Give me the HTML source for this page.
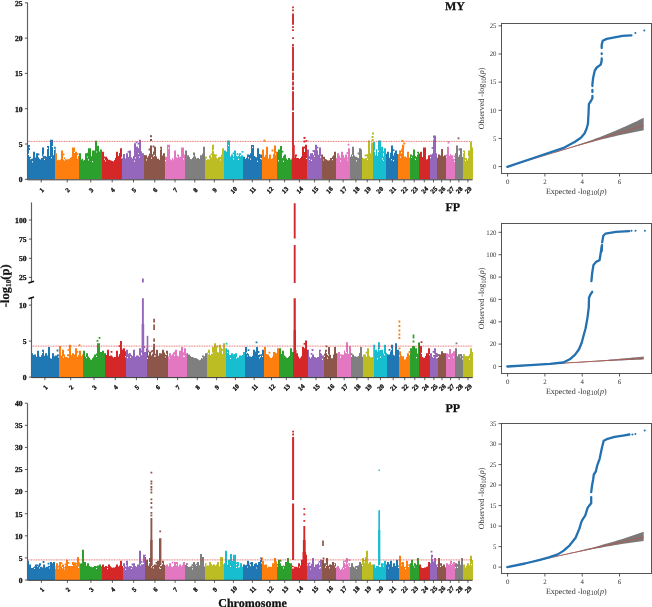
<!DOCTYPE html>
<html><head><meta charset="utf-8"><style>
html,body{margin:0;padding:0;background:#fff;width:652px;height:607px;overflow:hidden}
svg{display:block;filter:blur(0.4px)}
text{font-family:"Liberation Serif",serif;fill:#111;text-rendering:geometricPrecision}
.yt{font-size:7.6px;font-weight:bold;text-anchor:end;stroke:#111;stroke-width:0.3px}
.xt{font-size:6.5px;font-weight:bold;text-anchor:middle;stroke:#111;stroke-width:0.35px}
.ttl{font-size:12px;font-weight:bold;stroke:#111;stroke-width:0.25px}
.ylab{font-size:12.5px;font-weight:bold;stroke:#111;stroke-width:0.2px}
.xlab{font-size:12px;font-weight:bold;stroke:#111;stroke-width:0.25px}
.qt{font-size:6.8px;fill:#333}
.ql{font-size:8px;fill:#333}
</style></head><body>
<svg width="652" height="607" viewBox="0 0 652 607">
<path fill="#1f77b4" d="M27.0 179.3V146.1h1.0V179.3zM28.0 179.3V146.1h1.0V179.3zM29.0 179.3V156.7h1.0V179.3zM30.0 179.3V156.7h1.0V179.3zM31.0 179.3V158.7h1.0V179.3zM32.0 179.3V158.5h1.0V179.3zM33.0 179.3V151.8h1.0V179.3zM34.0 179.3V151.8h1.0V179.3zM35.0 179.3V157.5h1.0V179.3zM36.0 179.3V153.2h1.0V179.3zM37.0 179.3V153.2h1.0V179.3zM38.0 179.3V157.2h1.0V179.3zM39.0 179.3V158.7h1.0V179.3zM40.0 179.3V159.5h1.0V179.3zM41.0 179.3V157.9h1.0V179.3zM42.0 179.3V147.5h1.0V179.3zM43.0 179.3V147.5h1.0V179.3zM44.0 179.3V156.0h1.0V179.3zM45.0 179.3V156.0h1.0V179.3zM46.0 179.3V156.7h1.0V179.3zM47.0 179.3V146.1h1.0V179.3zM48.0 179.3V146.1h1.0V179.3zM49.0 179.3V156.1h1.0V179.3zM50.0 179.3V139.8h1.0V179.3zM51.0 179.3V139.8h1.0V179.3zM52.0 179.3V139.8h1.0V179.3zM53.0 179.3V155.3h1.0V179.3zM54.0 179.3V146.8h1.0V179.3zM243.0 179.3V156.7h1.0V179.3zM244.0 179.3V156.7h1.0V179.3zM245.0 179.3V159.0h1.0V179.3zM246.0 179.3V157.8h1.0V179.3zM247.0 179.3V154.6h1.0V179.3zM248.0 179.3V154.6h1.0V179.3zM249.0 179.3V154.8h1.0V179.3zM250.0 179.3V153.3h1.0V179.3zM251.0 179.3V145.1h1.0V179.3zM252.0 179.3V145.1h1.0V179.3zM253.0 179.3V145.1h1.0V179.3zM254.0 179.3V156.1h1.0V179.3zM255.0 179.3V156.7h1.0V179.3zM256.0 179.3V157.3h1.0V179.3zM257.0 179.3V148.2h1.0V179.3zM258.0 179.3V148.2h1.0V179.3zM259.0 179.3V153.9h1.0V179.3zM260.0 179.3V154.6h1.0V179.3zM261.0 179.3V154.6h1.0V179.3zM386.0 179.3V153.8h1.0V179.3zM387.0 179.3V151.8h1.0V179.3zM388.0 179.3V151.8h1.0V179.3zM389.0 179.3V157.8h1.0V179.3zM390.0 179.3V152.8h1.0V179.3zM391.0 179.3V145.4h1.0V179.3zM392.0 179.3V145.4h1.0V179.3zM393.0 179.3V155.5h1.0V179.3zM394.0 179.3V152.8h1.0V179.3zM395.0 179.3V150.4h1.0V179.3zM396.0 179.3V150.4h1.0V179.3zM397.0 179.3V153.9h1.0V179.3z"/>
<path fill="#ff7f0e" d="M55.0 179.3V146.8h1.0V179.3zM56.0 179.3V153.2h1.0V179.3zM57.0 179.3V160.2h1.0V179.3zM58.0 179.3V159.8h1.0V179.3zM59.0 179.3V160.3h1.0V179.3zM60.0 179.3V159.4h1.0V179.3zM61.0 179.3V150.4h1.0V179.3zM62.0 179.3V150.4h1.0V179.3zM63.0 179.3V159.6h1.0V179.3zM64.0 179.3V157.5h1.0V179.3zM65.0 179.3V159.1h1.0V179.3zM66.0 179.3V159.5h1.0V179.3zM67.0 179.3V159.3h1.0V179.3zM68.0 179.3V159.2h1.0V179.3zM69.0 179.3V158.8h1.0V179.3zM70.0 179.3V157.8h1.0V179.3zM71.0 179.3V156.9h1.0V179.3zM72.0 179.3V147.5h1.0V179.3zM73.0 179.3V147.5h1.0V179.3zM74.0 179.3V147.5h1.0V179.3zM75.0 179.3V151.8h1.0V179.3zM76.0 179.3V151.8h1.0V179.3zM77.0 179.3V158.7h1.0V179.3zM78.0 179.3V156.0h1.0V179.3zM262.0 179.3V149.6h1.0V179.3zM263.0 179.3V149.6h1.0V179.3zM264.0 179.3V156.7h1.0V179.3zM265.0 179.3V155.1h1.0V179.3zM266.0 179.3V146.8h1.0V179.3zM267.0 179.3V146.8h1.0V179.3zM268.0 179.3V158.4h1.0V179.3zM269.0 179.3V154.6h1.0V179.3zM270.0 179.3V154.6h1.0V179.3zM271.0 179.3V158.9h1.0V179.3zM272.0 179.3V158.3h1.0V179.3zM273.0 179.3V154.1h1.0V179.3zM274.0 179.3V145.4h1.0V179.3zM275.0 179.3V145.4h1.0V179.3zM276.0 179.3V151.8h1.0V179.3zM398.0 179.3V153.9h1.0V179.3zM399.0 179.3V150.4h1.0V179.3zM400.0 179.3V150.4h1.0V179.3zM401.0 179.3V153.6h1.0V179.3zM402.0 179.3V144.7h1.0V179.3zM403.0 179.3V144.7h1.0V179.3zM404.0 179.3V156.4h1.0V179.3zM405.0 179.3V156.6h1.0V179.3zM406.0 179.3V157.4h1.0V179.3zM407.0 179.3V151.8h1.0V179.3zM408.0 179.3V151.8h1.0V179.3zM409.0 179.3V157.4h1.0V179.3z"/>
<path fill="#2ca02c" d="M79.0 179.3V153.2h1.0V179.3zM80.0 179.3V153.2h1.0V179.3zM81.0 179.3V159.4h1.0V179.3zM82.0 179.3V158.8h1.0V179.3zM83.0 179.3V160.6h1.0V179.3zM84.0 179.3V160.1h1.0V179.3zM85.0 179.3V153.2h1.0V179.3zM86.0 179.3V153.2h1.0V179.3zM87.0 179.3V152.8h1.0V179.3zM88.0 179.3V148.2h1.0V179.3zM89.0 179.3V148.2h1.0V179.3zM90.0 179.3V148.2h1.0V179.3zM91.0 179.3V156.3h1.0V179.3zM92.0 179.3V150.4h1.0V179.3zM93.0 179.3V150.4h1.0V179.3zM94.0 179.3V150.4h1.0V179.3zM95.0 179.3V140.8h1.0V179.3zM96.0 179.3V140.8h1.0V179.3zM97.0 179.3V145.8h1.0V179.3zM98.0 179.3V145.8h1.0V179.3zM99.0 179.3V151.6h1.0V179.3zM100.0 179.3V149.6h1.0V179.3zM101.0 179.3V149.6h1.0V179.3zM277.0 179.3V151.8h1.0V179.3zM278.0 179.3V149.6h1.0V179.3zM279.0 179.3V149.6h1.0V179.3zM280.0 179.3V146.1h1.0V179.3zM281.0 179.3V146.1h1.0V179.3zM282.0 179.3V157.9h1.0V179.3zM283.0 179.3V155.7h1.0V179.3zM284.0 179.3V154.6h1.0V179.3zM285.0 179.3V154.6h1.0V179.3zM286.0 179.3V158.6h1.0V179.3zM287.0 179.3V159.7h1.0V179.3zM288.0 179.3V158.1h1.0V179.3zM289.0 179.3V158.1h1.0V179.3zM290.0 179.3V159.5h1.0V179.3zM291.0 179.3V159.5h1.0V179.3zM410.0 179.3V154.6h1.0V179.3zM411.0 179.3V154.6h1.0V179.3zM412.0 179.3V155.4h1.0V179.3zM413.0 179.3V149.6h1.0V179.3zM414.0 179.3V149.6h1.0V179.3zM415.0 179.3V156.0h1.0V179.3zM416.0 179.3V156.7h1.0V179.3zM417.0 179.3V151.8h1.0V179.3zM418.0 179.3V151.8h1.0V179.3z"/>
<path fill="#d62728" d="M102.0 179.3V151.8h1.0V179.3zM103.0 179.3V151.8h1.0V179.3zM104.0 179.3V156.5h1.0V179.3zM105.0 179.3V156.7h1.0V179.3zM106.0 179.3V156.7h1.0V179.3zM107.0 179.3V158.3h1.0V179.3zM108.0 179.3V159.7h1.0V179.3zM109.0 179.3V159.8h1.0V179.3zM110.0 179.3V160.2h1.0V179.3zM111.0 179.3V160.8h1.0V179.3zM112.0 179.3V161.1h1.0V179.3zM113.0 179.3V161.5h1.0V179.3zM114.0 179.3V160.1h1.0V179.3zM115.0 179.3V157.7h1.0V179.3zM116.0 179.3V151.8h1.0V179.3zM117.0 179.3V151.8h1.0V179.3zM118.0 179.3V156.0h1.0V179.3zM119.0 179.3V152.9h1.0V179.3zM120.0 179.3V148.2h1.0V179.3zM121.0 179.3V148.2h1.0V179.3zM292.0 179.3V158.5h1.0V179.3zM293.0 179.3V159.4h1.0V179.3zM294.0 179.3V159.7h1.0V179.3zM295.0 179.3V154.6h1.0V179.3zM296.0 179.3V154.6h1.0V179.3zM297.0 179.3V158.1h1.0V179.3zM298.0 179.3V158.1h1.0V179.3zM299.0 179.3V159.0h1.0V179.3zM300.0 179.3V158.1h1.0V179.3zM301.0 179.3V156.5h1.0V179.3zM302.0 179.3V146.8h1.0V179.3zM303.0 179.3V146.8h1.0V179.3zM304.0 179.3V152.0h1.0V179.3zM305.0 179.3V144.7h1.0V179.3zM306.0 179.3V144.7h1.0V179.3zM419.0 179.3V153.5h1.0V179.3zM420.0 179.3V151.8h1.0V179.3zM421.0 179.3V151.8h1.0V179.3zM422.0 179.3V157.0h1.0V179.3zM423.0 179.3V147.5h1.0V179.3zM424.0 179.3V147.5h1.0V179.3zM425.0 179.3V147.5h1.0V179.3zM426.0 179.3V159.5h1.0V179.3zM427.0 179.3V159.1h1.0V179.3zM428.0 179.3V155.3h1.0V179.3zM429.0 179.3V155.3h1.0V179.3z"/>
<path fill="#9467bd" d="M122.0 179.3V157.9h1.0V179.3zM123.0 179.3V153.9h1.0V179.3zM124.0 179.3V153.9h1.0V179.3zM125.0 179.3V158.4h1.0V179.3zM126.0 179.3V153.2h1.0V179.3zM127.0 179.3V153.2h1.0V179.3zM128.0 179.3V157.0h1.0V179.3zM129.0 179.3V150.4h1.0V179.3zM130.0 179.3V150.4h1.0V179.3zM131.0 179.3V157.3h1.0V179.3zM132.0 179.3V158.6h1.0V179.3zM133.0 179.3V156.0h1.0V179.3zM134.0 179.3V143.3h1.0V179.3zM135.0 179.3V143.3h1.0V179.3zM136.0 179.3V146.8h1.0V179.3zM137.0 179.3V146.5h1.0V179.3zM138.0 179.3V148.3h1.0V179.3zM139.0 179.3V139.8h1.0V179.3zM140.0 179.3V139.8h1.0V179.3zM141.0 179.3V151.2h1.0V179.3zM142.0 179.3V153.2h1.0V179.3zM143.0 179.3V153.2h1.0V179.3zM307.0 179.3V149.6h1.0V179.3zM308.0 179.3V149.6h1.0V179.3zM309.0 179.3V156.3h1.0V179.3zM310.0 179.3V153.2h1.0V179.3zM311.0 179.3V153.2h1.0V179.3zM312.0 179.3V152.9h1.0V179.3zM313.0 179.3V155.0h1.0V179.3zM314.0 179.3V149.9h1.0V179.3zM315.0 179.3V144.7h1.0V179.3zM316.0 179.3V144.7h1.0V179.3zM317.0 179.3V150.3h1.0V179.3zM318.0 179.3V154.7h1.0V179.3zM319.0 179.3V147.5h1.0V179.3zM320.0 179.3V147.5h1.0V179.3zM321.0 179.3V154.6h1.0V179.3zM430.0 179.3V154.6h1.0V179.3zM431.0 179.3V154.6h1.0V179.3zM432.0 179.3V153.5h1.0V179.3zM433.0 179.3V135.5h1.0V179.3zM434.0 179.3V135.5h1.0V179.3zM435.0 179.3V135.5h1.0V179.3zM436.0 179.3V153.2h1.0V179.3z"/>
<path fill="#8c564b" d="M144.0 179.3V155.1h1.0V179.3zM145.0 179.3V155.3h1.0V179.3zM146.0 179.3V155.3h1.0V179.3zM147.0 179.3V157.5h1.0V179.3zM148.0 179.3V155.8h1.0V179.3zM149.0 179.3V153.4h1.0V179.3zM150.0 179.3V145.4h1.0V179.3zM151.0 179.3V145.4h1.0V179.3zM152.0 179.3V154.3h1.0V179.3zM153.0 179.3V151.4h1.0V179.3zM154.0 179.3V146.8h1.0V179.3zM155.0 179.3V146.8h1.0V179.3zM156.0 179.3V156.5h1.0V179.3zM157.0 179.3V158.8h1.0V179.3zM158.0 179.3V158.8h1.0V179.3zM159.0 179.3V159.8h1.0V179.3zM160.0 179.3V146.8h1.0V179.3zM161.0 179.3V146.8h1.0V179.3zM162.0 179.3V155.4h1.0V179.3zM163.0 179.3V153.2h1.0V179.3zM164.0 179.3V153.2h1.0V179.3zM322.0 179.3V154.6h1.0V179.3zM323.0 179.3V156.7h1.0V179.3zM324.0 179.3V156.7h1.0V179.3zM325.0 179.3V159.1h1.0V179.3zM326.0 179.3V159.6h1.0V179.3zM327.0 179.3V160.2h1.0V179.3zM328.0 179.3V160.5h1.0V179.3zM329.0 179.3V160.3h1.0V179.3zM330.0 179.3V158.1h1.0V179.3zM331.0 179.3V158.1h1.0V179.3zM332.0 179.3V156.5h1.0V179.3zM333.0 179.3V155.2h1.0V179.3zM334.0 179.3V151.8h1.0V179.3zM335.0 179.3V151.8h1.0V179.3zM437.0 179.3V157.7h1.0V179.3zM438.0 179.3V154.6h1.0V179.3zM439.0 179.3V154.6h1.0V179.3zM440.0 179.3V155.5h1.0V179.3zM441.0 179.3V148.9h1.0V179.3zM442.0 179.3V148.9h1.0V179.3zM443.0 179.3V156.2h1.0V179.3zM444.0 179.3V155.3h1.0V179.3zM445.0 179.3V155.3h1.0V179.3z"/>
<path fill="#e377c2" d="M165.0 179.3V156.7h1.0V179.3zM166.0 179.3V156.7h1.0V179.3zM167.0 179.3V144.7h1.0V179.3zM168.0 179.3V144.7h1.0V179.3zM169.0 179.3V144.7h1.0V179.3zM170.0 179.3V159.3h1.0V179.3zM171.0 179.3V160.3h1.0V179.3zM172.0 179.3V158.0h1.0V179.3zM173.0 179.3V159.6h1.0V179.3zM174.0 179.3V150.6h1.0V179.3zM175.0 179.3V150.6h1.0V179.3zM176.0 179.3V157.2h1.0V179.3zM177.0 179.3V154.6h1.0V179.3zM178.0 179.3V154.6h1.0V179.3zM179.0 179.3V157.3h1.0V179.3zM180.0 179.3V156.7h1.0V179.3zM181.0 179.3V147.5h1.0V179.3zM182.0 179.3V147.5h1.0V179.3zM183.0 179.3V147.5h1.0V179.3zM184.0 179.3V154.6h1.0V179.3zM336.0 179.3V158.1h1.0V179.3zM337.0 179.3V153.2h1.0V179.3zM338.0 179.3V153.2h1.0V179.3zM339.0 179.3V155.5h1.0V179.3zM340.0 179.3V157.7h1.0V179.3zM341.0 179.3V151.8h1.0V179.3zM342.0 179.3V151.8h1.0V179.3zM343.0 179.3V155.0h1.0V179.3zM344.0 179.3V157.6h1.0V179.3zM345.0 179.3V154.6h1.0V179.3zM346.0 179.3V154.6h1.0V179.3zM347.0 179.3V157.4h1.0V179.3zM348.0 179.3V148.2h1.0V179.3zM349.0 179.3V148.2h1.0V179.3zM446.0 179.3V154.6h1.0V179.3zM447.0 179.3V146.8h1.0V179.3zM448.0 179.3V146.8h1.0V179.3zM449.0 179.3V155.7h1.0V179.3zM450.0 179.3V154.0h1.0V179.3zM451.0 179.3V155.3h1.0V179.3zM452.0 179.3V155.3h1.0V179.3zM453.0 179.3V158.4h1.0V179.3zM454.0 179.3V158.9h1.0V179.3z"/>
<path fill="#7f7f7f" d="M185.0 179.3V150.4h1.0V179.3zM186.0 179.3V150.4h1.0V179.3zM187.0 179.3V155.3h1.0V179.3zM188.0 179.3V155.3h1.0V179.3zM189.0 179.3V157.1h1.0V179.3zM190.0 179.3V158.9h1.0V179.3zM191.0 179.3V159.3h1.0V179.3zM192.0 179.3V158.1h1.0V179.3zM193.0 179.3V152.5h1.0V179.3zM194.0 179.3V152.5h1.0V179.3zM195.0 179.3V156.6h1.0V179.3zM196.0 179.3V158.5h1.0V179.3zM197.0 179.3V158.1h1.0V179.3zM198.0 179.3V158.1h1.0V179.3zM199.0 179.3V159.0h1.0V179.3zM200.0 179.3V155.3h1.0V179.3zM201.0 179.3V155.3h1.0V179.3zM202.0 179.3V153.8h1.0V179.3zM203.0 179.3V146.8h1.0V179.3zM204.0 179.3V146.8h1.0V179.3zM350.0 179.3V156.8h1.0V179.3zM351.0 179.3V154.6h1.0V179.3zM352.0 179.3V146.8h1.0V179.3zM353.0 179.3V146.8h1.0V179.3zM354.0 179.3V155.6h1.0V179.3zM355.0 179.3V156.7h1.0V179.3zM356.0 179.3V156.7h1.0V179.3zM357.0 179.3V157.6h1.0V179.3zM358.0 179.3V158.1h1.0V179.3zM359.0 179.3V148.2h1.0V179.3zM360.0 179.3V148.2h1.0V179.3zM361.0 179.3V149.6h1.0V179.3zM455.0 179.3V153.2h1.0V179.3zM456.0 179.3V145.4h1.0V179.3zM457.0 179.3V145.4h1.0V179.3zM458.0 179.3V156.8h1.0V179.3zM459.0 179.3V154.7h1.0V179.3zM460.0 179.3V148.2h1.0V179.3zM461.0 179.3V148.2h1.0V179.3zM462.0 179.3V157.1h1.0V179.3z"/>
<path fill="#bcbd22" d="M205.0 179.3V156.5h1.0V179.3zM206.0 179.3V156.7h1.0V179.3zM207.0 179.3V159.3h1.0V179.3zM208.0 179.3V159.2h1.0V179.3zM209.0 179.3V155.3h1.0V179.3zM210.0 179.3V155.3h1.0V179.3zM211.0 179.3V157.6h1.0V179.3zM212.0 179.3V144.7h1.0V179.3zM213.0 179.3V144.7h1.0V179.3zM214.0 179.3V154.0h1.0V179.3zM215.0 179.3V154.6h1.0V179.3zM216.0 179.3V154.6h1.0V179.3zM217.0 179.3V158.5h1.0V179.3zM218.0 179.3V157.2h1.0V179.3zM219.0 179.3V156.7h1.0V179.3zM220.0 179.3V156.7h1.0V179.3zM221.0 179.3V154.7h1.0V179.3zM222.0 179.3V148.2h1.0V179.3zM223.0 179.3V148.2h1.0V179.3zM362.0 179.3V157.5h1.0V179.3zM363.0 179.3V158.2h1.0V179.3zM364.0 179.3V158.7h1.0V179.3zM365.0 179.3V158.1h1.0V179.3zM366.0 179.3V157.9h1.0V179.3zM367.0 179.3V154.1h1.0V179.3zM368.0 179.3V140.5h1.0V179.3zM369.0 179.3V140.5h1.0V179.3zM370.0 179.3V153.3h1.0V179.3zM371.0 179.3V142.6h1.0V179.3zM372.0 179.3V142.6h1.0V179.3zM463.0 179.3V150.4h1.0V179.3zM464.0 179.3V150.4h1.0V179.3zM465.0 179.3V158.1h1.0V179.3zM466.0 179.3V158.1h1.0V179.3zM467.0 179.3V160.2h1.0V179.3zM468.0 179.3V150.4h1.0V179.3zM469.0 179.3V150.4h1.0V179.3zM470.0 179.3V141.9h1.0V179.3zM471.0 179.3V141.9h1.0V179.3zM472.0 179.3V147.5h1.0V179.3z"/>
<path fill="#17becf" d="M224.0 179.3V150.4h1.0V179.3zM225.0 179.3V150.4h1.0V179.3zM226.0 179.3V151.7h1.0V179.3zM227.0 179.3V140.5h1.0V179.3zM228.0 179.3V140.5h1.0V179.3zM229.0 179.3V140.5h1.0V179.3zM230.0 179.3V156.5h1.0V179.3zM231.0 179.3V154.6h1.0V179.3zM232.0 179.3V154.6h1.0V179.3zM233.0 179.3V156.8h1.0V179.3zM234.0 179.3V150.4h1.0V179.3zM235.0 179.3V150.4h1.0V179.3zM236.0 179.3V155.7h1.0V179.3zM237.0 179.3V156.5h1.0V179.3zM238.0 179.3V155.7h1.0V179.3zM239.0 179.3V153.2h1.0V179.3zM240.0 179.3V153.2h1.0V179.3zM241.0 179.3V155.3h1.0V179.3zM242.0 179.3V155.3h1.0V179.3zM373.0 179.3V141.9h1.0V179.3zM374.0 179.3V141.9h1.0V179.3zM375.0 179.3V155.3h1.0V179.3zM376.0 179.3V149.3h1.0V179.3zM377.0 179.3V155.9h1.0V179.3zM378.0 179.3V140.5h1.0V179.3zM379.0 179.3V140.5h1.0V179.3zM380.0 179.3V140.5h1.0V179.3zM381.0 179.3V146.8h1.0V179.3zM382.0 179.3V146.8h1.0V179.3zM383.0 179.3V156.3h1.0V179.3zM384.0 179.3V148.2h1.0V179.3zM385.0 179.3V148.2h1.0V179.3z"/>
<path fill="#fff" d="M28.0 153.7h1.0v1.2h-1.0zM30.0 158.1h1.0v1.2h-1.0zM32.0 161.3h1.0v1.2h-1.0zM42.0 156.5h1.0v1.2h-1.0zM43.0 154.5h1.0v1.2h-1.0zM44.0 158.7h1.0v1.2h-1.0zM47.0 147.7h1.0v1.2h-1.0zM51.0 157.1h1.0v1.2h-1.0zM52.0 145.9h1.0v1.2h-1.0zM54.0 148.7h1.0v1.2h-1.0zM64.0 159.2h1.0v1.2h-1.0zM74.0 151.8h1.0v1.2h-1.0zM87.0 156.4h1.0v1.2h-1.0zM88.0 159.3h1.0v1.2h-1.0zM92.0 161.0h1.0v1.2h-1.0zM96.0 151.4h1.0v1.2h-1.0zM104.0 158.6h1.0v1.2h-1.0zM105.0 160.3h1.0v1.2h-1.0zM121.0 157.2h1.0v1.2h-1.0zM134.0 160.5h1.0v1.2h-1.0zM135.0 157.3h1.0v1.2h-1.0zM138.0 152.9h1.0v1.2h-1.0zM139.0 156.5h1.0v1.2h-1.0zM146.0 159.3h1.0v1.2h-1.0zM151.0 157.5h1.0v1.2h-1.0zM153.0 155.6h1.0v1.2h-1.0zM154.0 154.8h1.0v1.2h-1.0zM160.0 148.4h1.0v1.2h-1.0zM165.0 160.0h1.0v1.2h-1.0zM168.0 147.6h1.0v1.2h-1.0zM177.0 156.6h1.0v1.2h-1.0zM183.0 158.3h1.0v1.2h-1.0zM193.0 155.2h1.0v1.2h-1.0zM206.0 158.7h1.0v1.2h-1.0zM209.0 158.4h1.0v1.2h-1.0zM213.0 149.8h1.0v1.2h-1.0zM216.0 156.2h1.0v1.2h-1.0zM220.0 159.4h1.0v1.2h-1.0zM228.0 144.9h1.0v1.2h-1.0zM233.0 158.3h1.0v1.2h-1.0zM238.0 158.7h1.0v1.2h-1.0zM240.0 155.1h1.0v1.2h-1.0zM248.0 157.3h1.0v1.2h-1.0zM250.0 158.6h1.0v1.2h-1.0zM252.0 146.8h1.0v1.2h-1.0zM257.0 160.8h1.0v1.2h-1.0zM260.0 157.8h1.0v1.2h-1.0zM261.0 158.2h1.0v1.2h-1.0zM275.0 153.6h1.0v1.2h-1.0zM278.0 160.3h1.0v1.2h-1.0zM283.0 160.7h1.0v1.2h-1.0zM296.0 156.5h1.0v1.2h-1.0zM306.0 157.9h1.0v1.2h-1.0zM309.0 158.9h1.0v1.2h-1.0zM311.0 159.7h1.0v1.2h-1.0zM314.0 155.8h1.0v1.2h-1.0zM320.0 156.5h1.0v1.2h-1.0zM323.0 159.4h1.0v1.2h-1.0zM332.0 159.1h1.0v1.2h-1.0zM340.0 160.6h1.0v1.2h-1.0zM347.0 159.4h1.0v1.2h-1.0zM352.0 155.0h1.0v1.2h-1.0zM356.0 160.2h1.0v1.2h-1.0zM367.0 158.7h1.0v1.2h-1.0zM374.0 150.6h1.0v1.2h-1.0zM378.0 150.8h1.0v1.2h-1.0zM382.0 158.2h1.0v1.2h-1.0zM383.0 159.9h1.0v1.2h-1.0zM391.0 159.0h1.0v1.2h-1.0zM393.0 160.0h1.0v1.2h-1.0zM400.0 156.6h1.0v1.2h-1.0zM411.0 156.7h1.0v1.2h-1.0zM415.0 158.8h1.0v1.2h-1.0zM417.0 153.3h1.0v1.2h-1.0zM430.0 157.1h1.0v1.2h-1.0zM433.0 138.3h1.0v1.2h-1.0zM446.0 156.4h1.0v1.2h-1.0zM454.0 160.8h1.0v1.2h-1.0zM463.0 152.1h1.0v1.2h-1.0zM465.0 159.7h1.0v1.2h-1.0zM468.0 156.5h1.0v1.2h-1.0z"/>
<path fill="#1f77b4" d="M37.6 153.4h1.8v1.8h-1.8zM392.6 149.3h1.8v1.8h-1.8z"/>
<path fill="#ff7f0e" d="M62.6 153.4h1.8v1.8h-1.8zM76.6 153.2h1.8v1.8h-1.8zM271.6 149.6h1.8v1.8h-1.8zM400.6 150.2h1.8v1.8h-1.8zM401.6 139.9h1.8v1.8h-1.8z"/>
<path fill="#2ca02c" d="M281.6 150.8h1.8v1.8h-1.8z"/>
<path fill="#d62728" d="M303.6 146.6h1.8v1.8h-1.8zM305.6 139.9h1.8v1.8h-1.8z"/>
<path fill="#9467bd" d="M127.6 150.9h1.8v1.8h-1.8zM135.6 141.5h1.8v1.8h-1.8zM137.6 142.8h1.8v1.8h-1.8zM312.6 150.1h1.8v1.8h-1.8zM316.6 146.7h1.8v1.8h-1.8zM431.6 147.0h1.8v1.8h-1.8z"/>
<path fill="#8c564b" d="M148.6 148.6h1.8v1.8h-1.8zM152.6 145.6h1.8v1.8h-1.8z"/>
<path fill="#e377c2" d="M346.6 152.1h1.8v1.8h-1.8zM347.6 143.8h1.8v1.8h-1.8zM447.6 141.6h1.8v1.8h-1.8zM453.6 155.4h1.8v1.8h-1.8z"/>
<path fill="#7f7f7f" d="M357.6 152.6h1.8v1.8h-1.8zM458.6 148.6h1.8v1.8h-1.8z"/>
<path fill="#bcbd22" d="M210.6 153.4h1.8v1.8h-1.8zM364.6 154.6h1.8v1.8h-1.8zM365.6 154.5h1.8v1.8h-1.8z"/>
<path fill="#17becf" d="M232.6 152.4h1.8v1.8h-1.8zM236.6 153.3h1.8v1.8h-1.8zM241.6 150.9h1.8v1.8h-1.8zM382.6 151.3h1.8v1.8h-1.8z"/>
<line x1="27.5" y1="141.4" x2="472.6" y2="141.4" stroke="#dd4444" stroke-width="0.9" stroke-dasharray="1 0.66" stroke-opacity="0.85"/>
<path fill="#cc2a30" d="M292.10 6.5h1.80V8.3h-1.80zM292.10 9.5h1.80V11.3h-1.80zM292.05 13.5h1.90V24.8h-1.90zM292.10 26.3h1.80V28.1h-1.80zM292.10 29.3h1.80V31.1h-1.80zM292.10 37.2h1.80V39.0h-1.80zM292.10 44.1h1.80V45.9h-1.80zM292.05 46.6h1.90V71.3h-1.90zM292.05 72.6h1.90V80.3h-1.90zM292.05 81.6h1.90V85.4h-1.90zM292.05 86.6h1.90V90.0h-1.90zM292.05 91.2h1.90V110.6h-1.90zM292.05 111.9h1.90V145.0h-1.90z"/>
<path fill="#d62728" d="M292.10 145.0h2.60V158.0h-2.60zM291.70 158.0h3.40V176.0h-3.40z"/>
<line x1="27.5" y1="179.8" x2="472.6" y2="179.8" stroke="#333" stroke-width="1"/>
<line x1="27.5" y1="2.6" x2="27.5" y2="180" stroke="#606060" stroke-width="1.15"/>
<line x1="24.9" y1="179.3" x2="27.5" y2="179.3" stroke="#333" stroke-width="0.8"/>
<text x="22.5" y="182.1" class="yt">0</text>
<line x1="24.9" y1="144.0" x2="27.5" y2="144.0" stroke="#333" stroke-width="0.8"/>
<text x="22.5" y="146.8" class="yt">5</text>
<line x1="24.9" y1="108.7" x2="27.5" y2="108.7" stroke="#333" stroke-width="0.8"/>
<text x="22.5" y="111.5" class="yt">10</text>
<line x1="24.9" y1="73.4" x2="27.5" y2="73.4" stroke="#333" stroke-width="0.8"/>
<text x="22.5" y="76.2" class="yt">15</text>
<line x1="24.9" y1="38.1" x2="27.5" y2="38.1" stroke="#333" stroke-width="0.8"/>
<text x="22.5" y="40.9" class="yt">20</text>
<line x1="24.9" y1="2.8" x2="27.5" y2="2.8" stroke="#333" stroke-width="0.8"/>
<text x="22.5" y="5.6" class="yt">25</text>
<line x1="41.2" y1="179.8" x2="41.2" y2="182.4" stroke="#333" stroke-width="0.8"/>
<text x="0" y="0" transform="translate(43.1,191.6) rotate(-45)" class="xt">1</text>
<line x1="67.2" y1="179.8" x2="67.2" y2="182.4" stroke="#333" stroke-width="0.8"/>
<text x="0" y="0" transform="translate(69.2,191.6) rotate(-45)" class="xt">2</text>
<line x1="90.8" y1="179.8" x2="90.8" y2="182.4" stroke="#333" stroke-width="0.8"/>
<text x="0" y="0" transform="translate(92.7,191.6) rotate(-45)" class="xt">3</text>
<line x1="112.2" y1="179.8" x2="112.2" y2="182.4" stroke="#333" stroke-width="0.8"/>
<text x="0" y="0" transform="translate(114.2,191.6) rotate(-45)" class="xt">4</text>
<line x1="133.5" y1="179.8" x2="133.5" y2="182.4" stroke="#333" stroke-width="0.8"/>
<text x="0" y="0" transform="translate(135.4,191.6) rotate(-45)" class="xt">5</text>
<line x1="154.8" y1="179.8" x2="154.8" y2="182.4" stroke="#333" stroke-width="0.8"/>
<text x="0" y="0" transform="translate(156.7,191.6) rotate(-45)" class="xt">6</text>
<line x1="175.0" y1="179.8" x2="175.0" y2="182.4" stroke="#333" stroke-width="0.8"/>
<text x="0" y="0" transform="translate(176.9,191.6) rotate(-45)" class="xt">7</text>
<line x1="194.8" y1="179.8" x2="194.8" y2="182.4" stroke="#333" stroke-width="0.8"/>
<text x="0" y="0" transform="translate(196.8,191.6) rotate(-45)" class="xt">8</text>
<line x1="214.3" y1="179.8" x2="214.3" y2="182.4" stroke="#333" stroke-width="0.8"/>
<text x="0" y="0" transform="translate(216.2,191.6) rotate(-45)" class="xt">9</text>
<line x1="233.3" y1="179.8" x2="233.3" y2="182.4" stroke="#333" stroke-width="0.8"/>
<text x="0" y="0" transform="translate(235.2,191.6) rotate(-45)" class="xt">10</text>
<line x1="252.3" y1="179.8" x2="252.3" y2="182.4" stroke="#333" stroke-width="0.8"/>
<text x="0" y="0" transform="translate(254.2,191.6) rotate(-45)" class="xt">11</text>
<line x1="269.7" y1="179.8" x2="269.7" y2="182.4" stroke="#333" stroke-width="0.8"/>
<text x="0" y="0" transform="translate(271.6,191.6) rotate(-45)" class="xt">12</text>
<line x1="284.6" y1="179.8" x2="284.6" y2="182.4" stroke="#333" stroke-width="0.8"/>
<text x="0" y="0" transform="translate(286.5,191.6) rotate(-45)" class="xt">13</text>
<line x1="299.4" y1="179.8" x2="299.4" y2="182.4" stroke="#333" stroke-width="0.8"/>
<text x="0" y="0" transform="translate(301.2,191.6) rotate(-45)" class="xt">14</text>
<line x1="314.6" y1="179.8" x2="314.6" y2="182.4" stroke="#333" stroke-width="0.8"/>
<text x="0" y="0" transform="translate(316.5,191.6) rotate(-45)" class="xt">15</text>
<line x1="329.2" y1="179.8" x2="329.2" y2="182.4" stroke="#333" stroke-width="0.8"/>
<text x="0" y="0" transform="translate(331.1,191.6) rotate(-45)" class="xt">16</text>
<line x1="343.1" y1="179.8" x2="343.1" y2="182.4" stroke="#333" stroke-width="0.8"/>
<text x="0" y="0" transform="translate(344.9,191.6) rotate(-45)" class="xt">17</text>
<line x1="355.9" y1="179.8" x2="355.9" y2="182.4" stroke="#333" stroke-width="0.8"/>
<text x="0" y="0" transform="translate(357.8,191.6) rotate(-45)" class="xt">18</text>
<line x1="367.2" y1="179.8" x2="367.2" y2="182.4" stroke="#333" stroke-width="0.8"/>
<text x="0" y="0" transform="translate(369.1,191.6) rotate(-45)" class="xt">19</text>
<line x1="379.6" y1="179.8" x2="379.6" y2="182.4" stroke="#333" stroke-width="0.8"/>
<text x="0" y="0" transform="translate(381.4,191.6) rotate(-45)" class="xt">20</text>
<line x1="392.4" y1="179.8" x2="392.4" y2="182.4" stroke="#333" stroke-width="0.8"/>
<text x="0" y="0" transform="translate(394.3,191.6) rotate(-45)" class="xt">21</text>
<line x1="404.1" y1="179.8" x2="404.1" y2="182.4" stroke="#333" stroke-width="0.8"/>
<text x="0" y="0" transform="translate(405.9,191.6) rotate(-45)" class="xt">22</text>
<line x1="414.2" y1="179.8" x2="414.2" y2="182.4" stroke="#333" stroke-width="0.8"/>
<text x="0" y="0" transform="translate(416.1,191.6) rotate(-45)" class="xt">23</text>
<line x1="424.3" y1="179.8" x2="424.3" y2="182.4" stroke="#333" stroke-width="0.8"/>
<text x="0" y="0" transform="translate(426.2,191.6) rotate(-45)" class="xt">24</text>
<line x1="433.5" y1="179.8" x2="433.5" y2="182.4" stroke="#333" stroke-width="0.8"/>
<text x="0" y="0" transform="translate(435.4,191.6) rotate(-45)" class="xt">25</text>
<line x1="441.6" y1="179.8" x2="441.6" y2="182.4" stroke="#333" stroke-width="0.8"/>
<text x="0" y="0" transform="translate(443.5,191.6) rotate(-45)" class="xt">26</text>
<line x1="450.3" y1="179.8" x2="450.3" y2="182.4" stroke="#333" stroke-width="0.8"/>
<text x="0" y="0" transform="translate(452.2,191.6) rotate(-45)" class="xt">27</text>
<line x1="458.9" y1="179.8" x2="458.9" y2="182.4" stroke="#333" stroke-width="0.8"/>
<text x="0" y="0" transform="translate(460.8,191.6) rotate(-45)" class="xt">28</text>
<line x1="467.9" y1="179.8" x2="467.9" y2="182.4" stroke="#333" stroke-width="0.8"/>
<text x="0" y="0" transform="translate(469.8,191.6) rotate(-45)" class="xt">29</text>
<text x="455" y="10.2" class="ttl" text-anchor="middle">MY</text>
<rect x="372.0" y="132.5" width="2" height="2" fill="#bcbd22"/>
<rect x="371.6" y="136.0" width="2" height="2" fill="#bcbd22"/>
<rect x="371.6" y="139.0" width="2" height="2" fill="#bcbd22"/>
<rect x="457.5" y="137.3" width="2" height="2" fill="#7f7f7f"/>
<rect x="403.2" y="142.5" width="2" height="2" fill="#ff7f0e"/>
<rect x="402.2" y="145.5" width="2" height="2" fill="#ff7f0e"/>
<rect x="401.2" y="148.5" width="2" height="2" fill="#ff7f0e"/>
<rect x="150.0" y="135.2" width="2" height="2" fill="#8c564b"/>
<rect x="150.0" y="139.0" width="2" height="2" fill="#8c564b"/>
<rect x="263.5" y="139.7" width="2" height="2" fill="#ff7f0e"/>
<rect x="303.5" y="136.9" width="2" height="2" fill="#d62728"/>
<rect x="303.5" y="140.5" width="2" height="2" fill="#d62728"/>
<rect x="28.0" y="145.0" width="2" height="2" fill="#1f77b4"/>
<rect x="28.0" y="148.0" width="2" height="2" fill="#1f77b4"/>
<path fill="#1f77b4" d="M31.0 377.1V353.3h1.0V377.1zM32.0 377.1V353.3h1.0V377.1zM33.0 377.1V355.0h1.0V377.1zM34.0 377.1V354.4h1.0V377.1zM35.0 377.1V354.4h1.0V377.1zM36.0 377.1V356.8h1.0V377.1zM37.0 377.1V350.7h1.0V377.1zM38.0 377.1V350.7h1.0V377.1zM39.0 377.1V356.5h1.0V377.1zM40.0 377.1V356.9h1.0V377.1zM41.0 377.1V355.2h1.0V377.1zM42.0 377.1V349.7h1.0V377.1zM43.0 377.1V349.7h1.0V377.1zM44.0 377.1V355.7h1.0V377.1zM45.0 377.1V353.3h1.0V377.1zM46.0 377.1V353.3h1.0V377.1zM47.0 377.1V355.4h1.0V377.1zM48.0 377.1V346.9h1.0V377.1zM49.0 377.1V346.9h1.0V377.1zM50.0 377.1V358.3h1.0V377.1zM51.0 377.1V358.7h1.0V377.1zM52.0 377.1V353.3h1.0V377.1zM53.0 377.1V353.3h1.0V377.1zM54.0 377.1V356.2h1.0V377.1zM55.0 377.1V355.5h1.0V377.1zM56.0 377.1V355.5h1.0V377.1zM57.0 377.1V354.5h1.0V377.1zM58.0 377.1V354.4h1.0V377.1zM245.0 377.1V346.9h1.0V377.1zM246.0 377.1V346.9h1.0V377.1zM247.0 377.1V352.9h1.0V377.1zM248.0 377.1V354.1h1.0V377.1zM249.0 377.1V356.2h1.0V377.1zM250.0 377.1V356.6h1.0V377.1zM251.0 377.1V356.9h1.0V377.1zM252.0 377.1V355.8h1.0V377.1zM253.0 377.1V349.7h1.0V377.1zM254.0 377.1V349.7h1.0V377.1zM255.0 377.1V351.6h1.0V377.1zM256.0 377.1V346.9h1.0V377.1zM257.0 377.1V346.9h1.0V377.1zM258.0 377.1V355.1h1.0V377.1zM259.0 377.1V354.4h1.0V377.1zM260.0 377.1V354.4h1.0V377.1zM261.0 377.1V354.3h1.0V377.1zM262.0 377.1V349.7h1.0V377.1zM263.0 377.1V349.7h1.0V377.1zM387.0 377.1V354.3h1.0V377.1zM388.0 377.1V354.4h1.0V377.1zM389.0 377.1V354.4h1.0V377.1zM390.0 377.1V351.5h1.0V377.1zM391.0 377.1V344.7h1.0V377.1zM392.0 377.1V344.7h1.0V377.1zM393.0 377.1V354.8h1.0V377.1zM394.0 377.1V355.6h1.0V377.1zM395.0 377.1V343.3h1.0V377.1zM396.0 377.1V343.3h1.0V377.1zM397.0 377.1V349.7h1.0V377.1zM398.0 377.1V349.7h1.0V377.1z"/>
<path fill="#ff7f0e" d="M59.0 377.1V346.1h1.0V377.1zM60.0 377.1V346.1h1.0V377.1zM61.0 377.1V355.8h1.0V377.1zM62.0 377.1V349.7h1.0V377.1zM63.0 377.1V349.7h1.0V377.1zM64.0 377.1V354.6h1.0V377.1zM65.0 377.1V356.9h1.0V377.1zM66.0 377.1V356.9h1.0V377.1zM67.0 377.1V354.2h1.0V377.1zM68.0 377.1V354.3h1.0V377.1zM69.0 377.1V344.7h1.0V377.1zM70.0 377.1V344.7h1.0V377.1zM71.0 377.1V355.3h1.0V377.1zM72.0 377.1V353.3h1.0V377.1zM73.0 377.1V353.3h1.0V377.1zM74.0 377.1V354.4h1.0V377.1zM75.0 377.1V348.3h1.0V377.1zM76.0 377.1V348.3h1.0V377.1zM77.0 377.1V356.7h1.0V377.1zM78.0 377.1V355.0h1.0V377.1zM79.0 377.1V350.7h1.0V377.1zM80.0 377.1V350.7h1.0V377.1zM81.0 377.1V356.2h1.0V377.1zM82.0 377.1V354.6h1.0V377.1zM264.0 377.1V346.9h1.0V377.1zM265.0 377.1V346.9h1.0V377.1zM266.0 377.1V354.1h1.0V377.1zM267.0 377.1V354.4h1.0V377.1zM268.0 377.1V354.4h1.0V377.1zM269.0 377.1V356.4h1.0V377.1zM270.0 377.1V357.7h1.0V377.1zM271.0 377.1V358.0h1.0V377.1zM272.0 377.1V356.7h1.0V377.1zM273.0 377.1V351.9h1.0V377.1zM274.0 377.1V351.9h1.0V377.1zM275.0 377.1V352.6h1.0V377.1zM276.0 377.1V353.3h1.0V377.1zM277.0 377.1V348.3h1.0V377.1zM278.0 377.1V348.3h1.0V377.1zM399.0 377.1V351.2h1.0V377.1zM400.0 377.1V351.2h1.0V377.1zM401.0 377.1V355.6h1.0V377.1zM402.0 377.1V356.2h1.0V377.1zM403.0 377.1V356.2h1.0V377.1zM404.0 377.1V359.5h1.0V377.1zM405.0 377.1V359.3h1.0V377.1zM406.0 377.1V356.9h1.0V377.1zM407.0 377.1V353.3h1.0V377.1zM408.0 377.1V353.3h1.0V377.1zM409.0 377.1V355.3h1.0V377.1z"/>
<path fill="#2ca02c" d="M83.0 377.1V350.7h1.0V377.1zM84.0 377.1V350.7h1.0V377.1zM85.0 377.1V356.6h1.0V377.1zM86.0 377.1V353.3h1.0V377.1zM87.0 377.1V353.3h1.0V377.1zM88.0 377.1V356.5h1.0V377.1zM89.0 377.1V357.8h1.0V377.1zM90.0 377.1V359.6h1.0V377.1zM91.0 377.1V359.8h1.0V377.1zM92.0 377.1V358.2h1.0V377.1zM93.0 377.1V356.7h1.0V377.1zM94.0 377.1V354.4h1.0V377.1zM95.0 377.1V354.4h1.0V377.1zM96.0 377.1V353.5h1.0V377.1zM97.0 377.1V343.3h1.0V377.1zM98.0 377.1V343.3h1.0V377.1zM99.0 377.1V343.3h1.0V377.1zM100.0 377.1V351.9h1.0V377.1zM101.0 377.1V351.9h1.0V377.1zM102.0 377.1V350.7h1.0V377.1zM103.0 377.1V350.7h1.0V377.1zM104.0 377.1V353.3h1.0V377.1zM279.0 377.1V348.3h1.0V377.1zM280.0 377.1V348.3h1.0V377.1zM281.0 377.1V354.0h1.0V377.1zM282.0 377.1V350.7h1.0V377.1zM283.0 377.1V350.7h1.0V377.1zM284.0 377.1V355.4h1.0V377.1zM285.0 377.1V356.4h1.0V377.1zM286.0 377.1V357.6h1.0V377.1zM287.0 377.1V358.0h1.0V377.1zM288.0 377.1V357.1h1.0V377.1zM289.0 377.1V356.1h1.0V377.1zM290.0 377.1V348.3h1.0V377.1zM291.0 377.1V348.3h1.0V377.1zM292.0 377.1V351.9h1.0V377.1zM410.0 377.1V348.3h1.0V377.1zM411.0 377.1V348.3h1.0V377.1zM412.0 377.1V346.1h1.0V377.1zM413.0 377.1V346.1h1.0V377.1zM414.0 377.1V346.1h1.0V377.1zM415.0 377.1V348.3h1.0V377.1zM416.0 377.1V348.3h1.0V377.1zM417.0 377.1V353.5h1.0V377.1zM418.0 377.1V342.5h1.0V377.1z"/>
<path fill="#d62728" d="M105.0 377.1V353.3h1.0V377.1zM106.0 377.1V355.1h1.0V377.1zM107.0 377.1V349.7h1.0V377.1zM108.0 377.1V349.7h1.0V377.1zM109.0 377.1V356.1h1.0V377.1zM110.0 377.1V355.5h1.0V377.1zM111.0 377.1V355.5h1.0V377.1zM112.0 377.1V356.6h1.0V377.1zM113.0 377.1V357.4h1.0V377.1zM114.0 377.1V356.9h1.0V377.1zM115.0 377.1V356.9h1.0V377.1zM116.0 377.1V350.7h1.0V377.1zM117.0 377.1V350.7h1.0V377.1zM118.0 377.1V356.5h1.0V377.1zM119.0 377.1V354.1h1.0V377.1zM120.0 377.1V341.1h1.0V377.1zM121.0 377.1V341.1h1.0V377.1zM122.0 377.1V349.4h1.0V377.1zM123.0 377.1V348.3h1.0V377.1zM124.0 377.1V348.3h1.0V377.1zM125.0 377.1V351.2h1.0V377.1zM293.0 377.1V351.9h1.0V377.1zM294.0 377.1V355.5h1.0V377.1zM295.0 377.1V356.4h1.0V377.1zM296.0 377.1V353.3h1.0V377.1zM297.0 377.1V353.3h1.0V377.1zM298.0 377.1V356.4h1.0V377.1zM299.0 377.1V358.4h1.0V377.1zM300.0 377.1V357.8h1.0V377.1zM301.0 377.1V356.2h1.0V377.1zM302.0 377.1V346.9h1.0V377.1zM303.0 377.1V346.9h1.0V377.1zM304.0 377.1V348.2h1.0V377.1zM305.0 377.1V340.4h1.0V377.1zM306.0 377.1V340.4h1.0V377.1zM307.0 377.1V349.7h1.0V377.1zM419.0 377.1V342.5h1.0V377.1zM420.0 377.1V346.1h1.0V377.1zM421.0 377.1V346.1h1.0V377.1zM422.0 377.1V357.0h1.0V377.1zM423.0 377.1V357.7h1.0V377.1zM424.0 377.1V357.7h1.0V377.1zM425.0 377.1V356.1h1.0V377.1zM426.0 377.1V353.3h1.0V377.1zM427.0 377.1V353.3h1.0V377.1zM428.0 377.1V348.3h1.0V377.1zM429.0 377.1V348.3h1.0V377.1z"/>
<path fill="#9467bd" d="M126.0 377.1V349.7h1.0V377.1zM127.0 377.1V349.7h1.0V377.1zM128.0 377.1V353.7h1.0V377.1zM129.0 377.1V353.3h1.0V377.1zM130.0 377.1V353.3h1.0V377.1zM131.0 377.1V355.1h1.0V377.1zM132.0 377.1V355.9h1.0V377.1zM133.0 377.1V349.7h1.0V377.1zM134.0 377.1V349.7h1.0V377.1zM135.0 377.1V356.7h1.0V377.1zM136.0 377.1V355.5h1.0V377.1zM137.0 377.1V355.5h1.0V377.1zM138.0 377.1V355.8h1.0V377.1zM139.0 377.1V348.3h1.0V377.1zM140.0 377.1V348.3h1.0V377.1zM141.0 377.1V355.2h1.0V377.1zM142.0 377.1V344.0h1.0V377.1zM143.0 377.1V344.0h1.0V377.1zM144.0 377.1V351.9h1.0V377.1zM145.0 377.1V351.9h1.0V377.1zM146.0 377.1V348.3h1.0V377.1zM308.0 377.1V349.7h1.0V377.1zM309.0 377.1V356.8h1.0V377.1zM310.0 377.1V358.4h1.0V377.1zM311.0 377.1V357.1h1.0V377.1zM312.0 377.1V354.4h1.0V377.1zM313.0 377.1V354.4h1.0V377.1zM314.0 377.1V356.9h1.0V377.1zM315.0 377.1V357.2h1.0V377.1zM316.0 377.1V357.9h1.0V377.1zM317.0 377.1V356.9h1.0V377.1zM318.0 377.1V356.9h1.0V377.1zM319.0 377.1V349.7h1.0V377.1zM320.0 377.1V349.7h1.0V377.1zM321.0 377.1V353.7h1.0V377.1zM322.0 377.1V355.5h1.0V377.1zM323.0 377.1V355.5h1.0V377.1zM430.0 377.1V353.3h1.0V377.1zM431.0 377.1V353.3h1.0V377.1zM432.0 377.1V357.1h1.0V377.1zM433.0 377.1V355.0h1.0V377.1zM434.0 377.1V348.3h1.0V377.1zM435.0 377.1V348.3h1.0V377.1zM436.0 377.1V353.0h1.0V377.1zM437.0 377.1V353.3h1.0V377.1z"/>
<path fill="#8c564b" d="M147.0 377.1V348.3h1.0V377.1zM148.0 377.1V355.5h1.0V377.1zM149.0 377.1V351.9h1.0V377.1zM150.0 377.1V351.9h1.0V377.1zM151.0 377.1V355.5h1.0V377.1zM152.0 377.1V353.8h1.0V377.1zM153.0 377.1V346.9h1.0V377.1zM154.0 377.1V346.9h1.0V377.1zM155.0 377.1V353.7h1.0V377.1zM156.0 377.1V349.7h1.0V377.1zM157.0 377.1V349.7h1.0V377.1zM158.0 377.1V355.7h1.0V377.1zM159.0 377.1V353.3h1.0V377.1zM160.0 377.1V353.3h1.0V377.1zM161.0 377.1V353.4h1.0V377.1zM162.0 377.1V349.7h1.0V377.1zM163.0 377.1V349.7h1.0V377.1zM164.0 377.1V352.5h1.0V377.1zM165.0 377.1V354.4h1.0V377.1zM166.0 377.1V350.7h1.0V377.1zM167.0 377.1V350.7h1.0V377.1zM324.0 377.1V353.7h1.0V377.1zM325.0 377.1V349.7h1.0V377.1zM326.0 377.1V349.7h1.0V377.1zM327.0 377.1V354.9h1.0V377.1zM328.0 377.1V346.9h1.0V377.1zM329.0 377.1V346.9h1.0V377.1zM330.0 377.1V354.8h1.0V377.1zM331.0 377.1V358.3h1.0V377.1zM332.0 377.1V358.3h1.0V377.1zM333.0 377.1V354.4h1.0V377.1zM334.0 377.1V346.9h1.0V377.1zM335.0 377.1V346.9h1.0V377.1zM336.0 377.1V353.3h1.0V377.1zM438.0 377.1V354.3h1.0V377.1zM439.0 377.1V354.3h1.0V377.1zM440.0 377.1V354.6h1.0V377.1zM441.0 377.1V351.2h1.0V377.1zM442.0 377.1V351.2h1.0V377.1zM443.0 377.1V353.0h1.0V377.1zM444.0 377.1V353.3h1.0V377.1zM445.0 377.1V353.3h1.0V377.1z"/>
<path fill="#e377c2" d="M168.0 377.1V356.4h1.0V377.1zM169.0 377.1V353.3h1.0V377.1zM170.0 377.1V353.3h1.0V377.1zM171.0 377.1V355.6h1.0V377.1zM172.0 377.1V354.3h1.0V377.1zM173.0 377.1V352.5h1.0V377.1zM174.0 377.1V351.7h1.0V377.1zM175.0 377.1V349.7h1.0V377.1zM176.0 377.1V349.7h1.0V377.1zM177.0 377.1V355.7h1.0V377.1zM178.0 377.1V356.2h1.0V377.1zM179.0 377.1V350.7h1.0V377.1zM180.0 377.1V350.7h1.0V377.1zM181.0 377.1V346.9h1.0V377.1zM182.0 377.1V346.9h1.0V377.1zM183.0 377.1V352.2h1.0V377.1zM184.0 377.1V348.3h1.0V377.1zM185.0 377.1V348.3h1.0V377.1zM186.0 377.1V353.3h1.0V377.1zM337.0 377.1V353.3h1.0V377.1zM338.0 377.1V351.9h1.0V377.1zM339.0 377.1V351.9h1.0V377.1zM340.0 377.1V357.7h1.0V377.1zM341.0 377.1V354.4h1.0V377.1zM342.0 377.1V354.4h1.0V377.1zM343.0 377.1V354.8h1.0V377.1zM344.0 377.1V350.6h1.0V377.1zM345.0 377.1V352.4h1.0V377.1zM346.0 377.1V342.2h1.0V377.1zM347.0 377.1V342.2h1.0V377.1zM348.0 377.1V354.1h1.0V377.1zM349.0 377.1V346.1h1.0V377.1zM350.0 377.1V346.1h1.0V377.1zM446.0 377.1V353.3h1.0V377.1zM447.0 377.1V353.3h1.0V377.1zM448.0 377.1V354.2h1.0V377.1zM449.0 377.1V349.0h1.0V377.1zM450.0 377.1V349.0h1.0V377.1zM451.0 377.1V353.8h1.0V377.1zM452.0 377.1V352.9h1.0V377.1zM453.0 377.1V351.2h1.0V377.1zM454.0 377.1V351.2h1.0V377.1z"/>
<path fill="#7f7f7f" d="M187.0 377.1V353.3h1.0V377.1zM188.0 377.1V354.4h1.0V377.1zM189.0 377.1V354.4h1.0V377.1zM190.0 377.1V356.0h1.0V377.1zM191.0 377.1V356.9h1.0V377.1zM192.0 377.1V356.9h1.0V377.1zM193.0 377.1V357.4h1.0V377.1zM194.0 377.1V358.1h1.0V377.1zM195.0 377.1V358.0h1.0V377.1zM196.0 377.1V358.2h1.0V377.1zM197.0 377.1V359.1h1.0V377.1zM198.0 377.1V359.6h1.0V377.1zM199.0 377.1V360.2h1.0V377.1zM200.0 377.1V359.7h1.0V377.1zM201.0 377.1V358.0h1.0V377.1zM202.0 377.1V355.5h1.0V377.1zM203.0 377.1V355.5h1.0V377.1zM204.0 377.1V356.3h1.0V377.1zM205.0 377.1V353.3h1.0V377.1zM206.0 377.1V353.3h1.0V377.1zM351.0 377.1V357.0h1.0V377.1zM352.0 377.1V354.4h1.0V377.1zM353.0 377.1V354.4h1.0V377.1zM354.0 377.1V356.3h1.0V377.1zM355.0 377.1V356.2h1.0V377.1zM356.0 377.1V356.9h1.0V377.1zM357.0 377.1V356.4h1.0V377.1zM358.0 377.1V356.1h1.0V377.1zM359.0 377.1V353.1h1.0V377.1zM360.0 377.1V346.9h1.0V377.1zM361.0 377.1V346.9h1.0V377.1zM362.0 377.1V356.8h1.0V377.1zM455.0 377.1V348.3h1.0V377.1zM456.0 377.1V348.3h1.0V377.1zM457.0 377.1V356.2h1.0V377.1zM458.0 377.1V354.3h1.0V377.1zM459.0 377.1V354.3h1.0V377.1zM460.0 377.1V354.1h1.0V377.1zM461.0 377.1V354.1h1.0V377.1zM462.0 377.1V356.3h1.0V377.1z"/>
<path fill="#bcbd22" d="M207.0 377.1V352.4h1.0V377.1zM208.0 377.1V349.7h1.0V377.1zM209.0 377.1V349.7h1.0V377.1zM210.0 377.1V355.2h1.0V377.1zM211.0 377.1V353.7h1.0V377.1zM212.0 377.1V346.9h1.0V377.1zM213.0 377.1V346.9h1.0V377.1zM214.0 377.1V343.3h1.0V377.1zM215.0 377.1V343.3h1.0V377.1zM216.0 377.1V346.2h1.0V377.1zM217.0 377.1V352.1h1.0V377.1zM218.0 377.1V352.5h1.0V377.1zM219.0 377.1V344.7h1.0V377.1zM220.0 377.1V344.7h1.0V377.1zM221.0 377.1V348.0h1.0V377.1zM222.0 377.1V354.1h1.0V377.1zM223.0 377.1V343.3h1.0V377.1zM224.0 377.1V343.3h1.0V377.1zM225.0 377.1V348.3h1.0V377.1zM363.0 377.1V354.7h1.0V377.1zM364.0 377.1V354.3h1.0V377.1zM365.0 377.1V354.4h1.0V377.1zM366.0 377.1V356.7h1.0V377.1zM367.0 377.1V348.3h1.0V377.1zM368.0 377.1V348.3h1.0V377.1zM369.0 377.1V355.7h1.0V377.1zM370.0 377.1V357.2h1.0V377.1zM371.0 377.1V357.3h1.0V377.1zM372.0 377.1V356.9h1.0V377.1zM373.0 377.1V344.7h1.0V377.1zM463.0 377.1V354.3h1.0V377.1zM464.0 377.1V354.3h1.0V377.1zM465.0 377.1V356.2h1.0V377.1zM466.0 377.1V356.0h1.0V377.1zM467.0 377.1V356.2h1.0V377.1zM468.0 377.1V355.9h1.0V377.1zM469.0 377.1V354.2h1.0V377.1zM470.0 377.1V348.3h1.0V377.1zM471.0 377.1V348.3h1.0V377.1zM472.0 377.1V351.9h1.0V377.1z"/>
<path fill="#17becf" d="M226.0 377.1V348.3h1.0V377.1zM227.0 377.1V349.7h1.0V377.1zM228.0 377.1V349.7h1.0V377.1zM229.0 377.1V354.9h1.0V377.1zM230.0 377.1V355.1h1.0V377.1zM231.0 377.1V353.3h1.0V377.1zM232.0 377.1V353.3h1.0V377.1zM233.0 377.1V354.6h1.0V377.1zM234.0 377.1V353.9h1.0V377.1zM235.0 377.1V353.3h1.0V377.1zM236.0 377.1V353.3h1.0V377.1zM237.0 377.1V357.4h1.0V377.1zM238.0 377.1V357.6h1.0V377.1zM239.0 377.1V355.5h1.0V377.1zM240.0 377.1V355.5h1.0V377.1zM241.0 377.1V355.5h1.0V377.1zM242.0 377.1V355.0h1.0V377.1zM243.0 377.1V351.9h1.0V377.1zM244.0 377.1V351.9h1.0V377.1zM374.0 377.1V344.7h1.0V377.1zM375.0 377.1V349.7h1.0V377.1zM376.0 377.1V349.7h1.0V377.1zM377.0 377.1V351.5h1.0V377.1zM378.0 377.1V342.2h1.0V377.1zM379.0 377.1V342.2h1.0V377.1zM380.0 377.1V350.0h1.0V377.1zM381.0 377.1V349.7h1.0V377.1zM382.0 377.1V349.7h1.0V377.1zM383.0 377.1V353.6h1.0V377.1zM384.0 377.1V344.7h1.0V377.1zM385.0 377.1V344.7h1.0V377.1zM386.0 377.1V352.8h1.0V377.1z"/>
<path fill="#fff" d="M31.0 354.8h1.0v1.2h-1.0zM42.0 351.8h1.0v1.2h-1.0zM58.0 356.3h1.0v1.2h-1.0zM63.0 356.6h1.0v1.2h-1.0zM67.0 356.1h1.0v1.2h-1.0zM68.0 356.5h1.0v1.2h-1.0zM86.0 357.1h1.0v1.2h-1.0zM96.0 355.8h1.0v1.2h-1.0zM125.0 356.0h1.0v1.2h-1.0zM127.0 357.0h1.0v1.2h-1.0zM130.0 356.6h1.0v1.2h-1.0zM139.0 355.6h1.0v1.2h-1.0zM147.0 357.7h1.0v1.2h-1.0zM154.0 355.6h1.0v1.2h-1.0zM155.0 355.4h1.0v1.2h-1.0zM165.0 356.4h1.0v1.2h-1.0zM166.0 353.7h1.0v1.2h-1.0zM169.0 357.4h1.0v1.2h-1.0zM174.0 354.7h1.0v1.2h-1.0zM183.0 355.6h1.0v1.2h-1.0zM184.0 355.8h1.0v1.2h-1.0zM202.0 357.2h1.0v1.2h-1.0zM208.0 353.1h1.0v1.2h-1.0zM212.0 352.4h1.0v1.2h-1.0zM227.0 351.9h1.0v1.2h-1.0zM230.0 357.9h1.0v1.2h-1.0zM236.0 357.3h1.0v1.2h-1.0zM246.0 352.5h1.0v1.2h-1.0zM247.0 355.4h1.0v1.2h-1.0zM259.0 357.3h1.0v1.2h-1.0zM260.0 356.1h1.0v1.2h-1.0zM262.0 355.8h1.0v1.2h-1.0zM320.0 351.6h1.0v1.2h-1.0zM322.0 358.7h1.0v1.2h-1.0zM324.0 355.7h1.0v1.2h-1.0zM326.0 351.8h1.0v1.2h-1.0zM327.0 357.5h1.0v1.2h-1.0zM328.0 354.5h1.0v1.2h-1.0zM346.0 352.1h1.0v1.2h-1.0zM377.0 358.1h1.0v1.2h-1.0zM379.0 349.0h1.0v1.2h-1.0zM380.0 356.5h1.0v1.2h-1.0zM384.0 354.1h1.0v1.2h-1.0zM391.0 348.6h1.0v1.2h-1.0zM399.0 355.3h1.0v1.2h-1.0zM416.0 357.1h1.0v1.2h-1.0zM421.0 352.8h1.0v1.2h-1.0zM429.0 354.0h1.0v1.2h-1.0zM433.0 356.8h1.0v1.2h-1.0zM434.0 353.7h1.0v1.2h-1.0zM436.0 357.2h1.0v1.2h-1.0zM437.0 356.9h1.0v1.2h-1.0zM438.0 356.0h1.0v1.2h-1.0zM448.0 357.5h1.0v1.2h-1.0zM449.0 357.8h1.0v1.2h-1.0zM453.0 356.6h1.0v1.2h-1.0zM460.0 356.4h1.0v1.2h-1.0zM462.0 358.2h1.0v1.2h-1.0zM469.0 358.5h1.0v1.2h-1.0z"/>
<path fill="#1f77b4" d="M56.6 349.6h1.8v1.8h-1.8zM247.6 349.2h1.8v1.8h-1.8zM255.6 341.5h1.8v1.8h-1.8zM257.6 351.1h1.8v1.8h-1.8zM388.6 349.0h1.8v1.8h-1.8z"/>
<path fill="#ff7f0e" d="M67.6 348.9h1.8v1.8h-1.8zM76.6 350.9h1.8v1.8h-1.8zM78.6 344.3h1.8v1.8h-1.8zM268.6 351.7h1.8v1.8h-1.8zM398.6 347.5h1.8v1.8h-1.8zM408.6 351.1h1.8v1.8h-1.8z"/>
<path fill="#2ca02c" d="M96.6 339.9h1.8v1.8h-1.8zM98.6 336.9h1.8v1.8h-1.8z"/>
<path fill="#d62728" d="M110.6 350.9h1.8v1.8h-1.8zM118.6 345.2h1.8v1.8h-1.8zM303.6 343.0h1.8v1.8h-1.8zM420.6 341.2h1.8v1.8h-1.8z"/>
<path fill="#9467bd" d="M140.6 350.6h1.8v1.8h-1.8zM143.6 346.3h1.8v1.8h-1.8zM310.6 353.0h1.8v1.8h-1.8zM311.6 349.1h1.8v1.8h-1.8zM432.6 350.9h1.8v1.8h-1.8z"/>
<path fill="#8c564b" d="M147.6 350.5h1.8v1.8h-1.8zM150.6 350.8h1.8v1.8h-1.8zM151.6 349.9h1.8v1.8h-1.8zM325.6 345.5h1.8v1.8h-1.8z"/>
<path fill="#e377c2" d="M339.6 354.4h1.8v1.8h-1.8z"/>
<path fill="#7f7f7f" d="M350.6 353.2h1.8v1.8h-1.8zM455.6 342.5h1.8v1.8h-1.8z"/>
<path fill="#bcbd22" d="M216.6 345.6h1.8v1.8h-1.8zM221.6 349.0h1.8v1.8h-1.8zM365.6 351.7h1.8v1.8h-1.8z"/>
<path fill="#17becf" d="M225.6 342.8h1.8v1.8h-1.8z"/>
<line x1="31.3" y1="346.1" x2="472.7" y2="346.1" stroke="#dd4444" stroke-width="0.9" stroke-dasharray="1 0.66" stroke-opacity="0.85"/>
<path fill="#d02a2e" d="M293.75 203.2h1.90V238.6h-1.90zM293.75 245.0h1.90V283.0h-1.90zM293.60 298.2h2.20V330.0h-2.20zM293.40 330.0h2.60V350.0h-2.60z"/>
<path fill="#d02a2e" d="M293.30 350.0h3.20V372.0h-3.20z"/>
<path fill="#9467bd" d="M142.00 278.4h1.80V282.6h-1.80zM141.95 298.3h1.90V324.0h-1.90zM141.60 324.0h2.60V352.0h-2.60z"/>
<path fill="#9467bd" d="M146.70 335.8h1.60V352.0h-1.60z"/>
<path fill="#8c564b" d="M153.25 318.7h1.70V322.5h-1.70zM153.25 324.5h1.70V330.0h-1.70zM153.25 338.4h1.70V341.7h-1.70zM153.15 343.7h1.90V352.0h-1.90z"/>
<path fill="#ff7f0e" d="M398.50 320.6h1.80V322.4h-1.80zM398.50 325.1h1.80V326.9h-1.80zM398.50 329.6h1.80V331.4h-1.80zM398.50 333.6h1.80V335.4h-1.80zM398.50 337.1h1.80V338.9h-1.80z"/>
<path fill="#2ca02c" d="M412.65 334.5h1.70V338.5h-1.70zM412.60 340.6h1.80V342.4h-1.80z"/>
<line x1="31.3" y1="377.6" x2="472.7" y2="377.6" stroke="#333" stroke-width="1"/>
<line x1="31.5" y1="202.4" x2="31.5" y2="282.2" stroke="#606060" stroke-width="1.15"/>
<line x1="28.9" y1="277.4" x2="31.5" y2="277.4" stroke="#333" stroke-width="0.8"/>
<text x="26.5" y="280.2" class="yt">25</text>
<line x1="28.9" y1="258.3" x2="31.5" y2="258.3" stroke="#333" stroke-width="0.8"/>
<text x="26.5" y="261.1" class="yt">50</text>
<line x1="28.9" y1="239.1" x2="31.5" y2="239.1" stroke="#333" stroke-width="0.8"/>
<text x="26.5" y="241.9" class="yt">75</text>
<line x1="28.9" y1="220.0" x2="31.5" y2="220.0" stroke="#333" stroke-width="0.8"/>
<text x="26.5" y="222.8" class="yt">100</text>
<line x1="31.5" y1="297.6" x2="31.5" y2="378" stroke="#606060" stroke-width="1.15"/>
<line x1="28.9" y1="377.1" x2="31.5" y2="377.1" stroke="#333" stroke-width="0.8"/>
<text x="26.5" y="379.9" class="yt">0</text>
<line x1="28.9" y1="341.1" x2="31.5" y2="341.1" stroke="#333" stroke-width="0.8"/>
<text x="26.5" y="343.9" class="yt">5</text>
<line x1="28.9" y1="305.1" x2="31.5" y2="305.1" stroke="#333" stroke-width="0.8"/>
<text x="26.5" y="307.9" class="yt">10</text>
<line x1="28.4" y1="283.0" x2="34.0" y2="281.2" stroke="#111" stroke-width="1.5"/>
<line x1="28.4" y1="298.8" x2="34.0" y2="297.0" stroke="#111" stroke-width="1.5"/>
<line x1="44.9" y1="377.6" x2="44.9" y2="380.2" stroke="#333" stroke-width="0.8"/>
<text x="0" y="0" transform="translate(46.8,388.9) rotate(-45)" class="xt">1</text>
<line x1="70.7" y1="377.6" x2="70.7" y2="380.2" stroke="#333" stroke-width="0.8"/>
<text x="0" y="0" transform="translate(72.6,388.9) rotate(-45)" class="xt">2</text>
<line x1="94.0" y1="377.6" x2="94.0" y2="380.2" stroke="#333" stroke-width="0.8"/>
<text x="0" y="0" transform="translate(95.9,388.9) rotate(-45)" class="xt">3</text>
<line x1="115.3" y1="377.6" x2="115.3" y2="380.2" stroke="#333" stroke-width="0.8"/>
<text x="0" y="0" transform="translate(117.2,388.9) rotate(-45)" class="xt">4</text>
<line x1="136.4" y1="377.6" x2="136.4" y2="380.2" stroke="#333" stroke-width="0.8"/>
<text x="0" y="0" transform="translate(138.3,388.9) rotate(-45)" class="xt">5</text>
<line x1="157.5" y1="377.6" x2="157.5" y2="380.2" stroke="#333" stroke-width="0.8"/>
<text x="0" y="0" transform="translate(159.4,388.9) rotate(-45)" class="xt">6</text>
<line x1="177.6" y1="377.6" x2="177.6" y2="380.2" stroke="#333" stroke-width="0.8"/>
<text x="0" y="0" transform="translate(179.5,388.9) rotate(-45)" class="xt">7</text>
<line x1="197.3" y1="377.6" x2="197.3" y2="380.2" stroke="#333" stroke-width="0.8"/>
<text x="0" y="0" transform="translate(199.2,388.9) rotate(-45)" class="xt">8</text>
<line x1="216.6" y1="377.6" x2="216.6" y2="380.2" stroke="#333" stroke-width="0.8"/>
<text x="0" y="0" transform="translate(218.5,388.9) rotate(-45)" class="xt">9</text>
<line x1="235.4" y1="377.6" x2="235.4" y2="380.2" stroke="#333" stroke-width="0.8"/>
<text x="0" y="0" transform="translate(237.3,388.9) rotate(-45)" class="xt">10</text>
<line x1="254.2" y1="377.6" x2="254.2" y2="380.2" stroke="#333" stroke-width="0.8"/>
<text x="0" y="0" transform="translate(256.1,388.9) rotate(-45)" class="xt">11</text>
<line x1="271.5" y1="377.6" x2="271.5" y2="380.2" stroke="#333" stroke-width="0.8"/>
<text x="0" y="0" transform="translate(273.4,388.9) rotate(-45)" class="xt">12</text>
<line x1="286.3" y1="377.6" x2="286.3" y2="380.2" stroke="#333" stroke-width="0.8"/>
<text x="0" y="0" transform="translate(288.2,388.9) rotate(-45)" class="xt">13</text>
<line x1="300.9" y1="377.6" x2="300.9" y2="380.2" stroke="#333" stroke-width="0.8"/>
<text x="0" y="0" transform="translate(302.8,388.9) rotate(-45)" class="xt">14</text>
<line x1="316.0" y1="377.6" x2="316.0" y2="380.2" stroke="#333" stroke-width="0.8"/>
<text x="0" y="0" transform="translate(317.9,388.9) rotate(-45)" class="xt">15</text>
<line x1="330.5" y1="377.6" x2="330.5" y2="380.2" stroke="#333" stroke-width="0.8"/>
<text x="0" y="0" transform="translate(332.4,388.9) rotate(-45)" class="xt">16</text>
<line x1="344.2" y1="377.6" x2="344.2" y2="380.2" stroke="#333" stroke-width="0.8"/>
<text x="0" y="0" transform="translate(346.1,388.9) rotate(-45)" class="xt">17</text>
<line x1="356.9" y1="377.6" x2="356.9" y2="380.2" stroke="#333" stroke-width="0.8"/>
<text x="0" y="0" transform="translate(358.8,388.9) rotate(-45)" class="xt">18</text>
<line x1="368.2" y1="377.6" x2="368.2" y2="380.2" stroke="#333" stroke-width="0.8"/>
<text x="0" y="0" transform="translate(370.1,388.9) rotate(-45)" class="xt">19</text>
<line x1="380.4" y1="377.6" x2="380.4" y2="380.2" stroke="#333" stroke-width="0.8"/>
<text x="0" y="0" transform="translate(382.3,388.9) rotate(-45)" class="xt">20</text>
<line x1="393.2" y1="377.6" x2="393.2" y2="380.2" stroke="#333" stroke-width="0.8"/>
<text x="0" y="0" transform="translate(395.1,388.9) rotate(-45)" class="xt">21</text>
<line x1="404.7" y1="377.6" x2="404.7" y2="380.2" stroke="#333" stroke-width="0.8"/>
<text x="0" y="0" transform="translate(406.6,388.9) rotate(-45)" class="xt">22</text>
<line x1="414.8" y1="377.6" x2="414.8" y2="380.2" stroke="#333" stroke-width="0.8"/>
<text x="0" y="0" transform="translate(416.7,388.9) rotate(-45)" class="xt">23</text>
<line x1="424.8" y1="377.6" x2="424.8" y2="380.2" stroke="#333" stroke-width="0.8"/>
<text x="0" y="0" transform="translate(426.7,388.9) rotate(-45)" class="xt">24</text>
<line x1="433.9" y1="377.6" x2="433.9" y2="380.2" stroke="#333" stroke-width="0.8"/>
<text x="0" y="0" transform="translate(435.8,388.9) rotate(-45)" class="xt">25</text>
<line x1="442.0" y1="377.6" x2="442.0" y2="380.2" stroke="#333" stroke-width="0.8"/>
<text x="0" y="0" transform="translate(443.9,388.9) rotate(-45)" class="xt">26</text>
<line x1="450.6" y1="377.6" x2="450.6" y2="380.2" stroke="#333" stroke-width="0.8"/>
<text x="0" y="0" transform="translate(452.5,388.9) rotate(-45)" class="xt">27</text>
<line x1="459.1" y1="377.6" x2="459.1" y2="380.2" stroke="#333" stroke-width="0.8"/>
<text x="0" y="0" transform="translate(461.0,388.9) rotate(-45)" class="xt">28</text>
<line x1="468.0" y1="377.6" x2="468.0" y2="380.2" stroke="#333" stroke-width="0.8"/>
<text x="0" y="0" transform="translate(469.9,388.9) rotate(-45)" class="xt">29</text>
<text x="452.8" y="211.3" class="ttl" text-anchor="middle">FP</text>
<path fill="#1f77b4" d="M28.0 580.0V560.8h1.0V580.0zM29.0 580.0V564.5h1.0V580.0zM30.0 580.0V564.5h1.0V580.0zM31.0 580.0V568.0h1.0V580.0zM32.0 580.0V568.1h1.0V580.0zM33.0 580.0V567.2h1.0V580.0zM34.0 580.0V566.6h1.0V580.0zM35.0 580.0V564.5h1.0V580.0zM36.0 580.0V564.5h1.0V580.0zM37.0 580.0V566.9h1.0V580.0zM38.0 580.0V565.4h1.0V580.0zM39.0 580.0V563.2h1.0V580.0zM40.0 580.0V563.2h1.0V580.0zM41.0 580.0V566.8h1.0V580.0zM42.0 580.0V567.5h1.0V580.0zM43.0 580.0V564.5h1.0V580.0zM44.0 580.0V564.5h1.0V580.0zM45.0 580.0V567.6h1.0V580.0zM46.0 580.0V566.7h1.0V580.0zM47.0 580.0V566.7h1.0V580.0zM48.0 580.0V565.8h1.0V580.0zM49.0 580.0V565.9h1.0V580.0zM50.0 580.0V562.0h1.0V580.0zM51.0 580.0V562.0h1.0V580.0zM52.0 580.0V563.3h1.0V580.0zM53.0 580.0V562.0h1.0V580.0zM54.0 580.0V562.0h1.0V580.0zM243.0 580.0V564.5h1.0V580.0zM244.0 580.0V564.5h1.0V580.0zM245.0 580.0V565.3h1.0V580.0zM246.0 580.0V564.7h1.0V580.0zM247.0 580.0V560.8h1.0V580.0zM248.0 580.0V560.8h1.0V580.0zM249.0 580.0V564.8h1.0V580.0zM250.0 580.0V566.2h1.0V580.0zM251.0 580.0V562.0h1.0V580.0zM252.0 580.0V562.0h1.0V580.0zM253.0 580.0V565.9h1.0V580.0zM254.0 580.0V564.0h1.0V580.0zM255.0 580.0V563.2h1.0V580.0zM256.0 580.0V563.2h1.0V580.0zM257.0 580.0V565.0h1.0V580.0zM258.0 580.0V562.0h1.0V580.0zM259.0 580.0V562.0h1.0V580.0zM260.0 580.0V557.5h1.0V580.0zM261.0 580.0V557.5h1.0V580.0zM386.0 580.0V564.4h1.0V580.0zM387.0 580.0V562.0h1.0V580.0zM388.0 580.0V562.0h1.0V580.0zM389.0 580.0V564.3h1.0V580.0zM390.0 580.0V560.8h1.0V580.0zM391.0 580.0V560.8h1.0V580.0zM392.0 580.0V566.7h1.0V580.0zM393.0 580.0V563.2h1.0V580.0zM394.0 580.0V563.2h1.0V580.0zM395.0 580.0V565.9h1.0V580.0zM396.0 580.0V559.7h1.0V580.0zM397.0 580.0V559.7h1.0V580.0zM398.0 580.0V565.5h1.0V580.0z"/>
<path fill="#ff7f0e" d="M55.0 580.0V566.5h1.0V580.0zM56.0 580.0V563.2h1.0V580.0zM57.0 580.0V563.2h1.0V580.0zM58.0 580.0V565.8h1.0V580.0zM59.0 580.0V562.0h1.0V580.0zM60.0 580.0V562.0h1.0V580.0zM61.0 580.0V566.4h1.0V580.0zM62.0 580.0V564.5h1.0V580.0zM63.0 580.0V564.5h1.0V580.0zM64.0 580.0V567.2h1.0V580.0zM65.0 580.0V565.8h1.0V580.0zM66.0 580.0V559.7h1.0V580.0zM67.0 580.0V559.7h1.0V580.0zM68.0 580.0V565.9h1.0V580.0zM69.0 580.0V565.9h1.0V580.0zM70.0 580.0V565.9h1.0V580.0zM71.0 580.0V566.0h1.0V580.0zM72.0 580.0V562.0h1.0V580.0zM73.0 580.0V562.0h1.0V580.0zM74.0 580.0V562.5h1.0V580.0zM75.0 580.0V562.5h1.0V580.0zM76.0 580.0V565.2h1.0V580.0zM77.0 580.0V557.0h1.0V580.0zM78.0 580.0V557.0h1.0V580.0zM79.0 580.0V562.3h1.0V580.0zM262.0 580.0V557.5h1.0V580.0zM263.0 580.0V560.8h1.0V580.0zM264.0 580.0V564.7h1.0V580.0zM265.0 580.0V564.5h1.0V580.0zM266.0 580.0V564.5h1.0V580.0zM267.0 580.0V567.5h1.0V580.0zM268.0 580.0V566.7h1.0V580.0zM269.0 580.0V566.7h1.0V580.0zM270.0 580.0V566.7h1.0V580.0zM271.0 580.0V566.9h1.0V580.0zM272.0 580.0V563.2h1.0V580.0zM273.0 580.0V563.2h1.0V580.0zM274.0 580.0V557.9h1.0V580.0zM275.0 580.0V557.9h1.0V580.0zM276.0 580.0V561.3h1.0V580.0zM399.0 580.0V555.7h1.0V580.0zM400.0 580.0V555.7h1.0V580.0zM401.0 580.0V565.7h1.0V580.0zM402.0 580.0V562.0h1.0V580.0zM403.0 580.0V562.0h1.0V580.0zM404.0 580.0V566.7h1.0V580.0zM405.0 580.0V566.7h1.0V580.0zM406.0 580.0V560.8h1.0V580.0zM407.0 580.0V560.8h1.0V580.0zM408.0 580.0V564.4h1.0V580.0zM409.0 580.0V564.2h1.0V580.0z"/>
<path fill="#2ca02c" d="M80.0 580.0V563.6h1.0V580.0zM81.0 580.0V563.2h1.0V580.0zM82.0 580.0V549.7h1.0V580.0zM83.0 580.0V549.7h1.0V580.0zM84.0 580.0V562.0h1.0V580.0zM85.0 580.0V562.0h1.0V580.0zM86.0 580.0V565.7h1.0V580.0zM87.0 580.0V563.2h1.0V580.0zM88.0 580.0V563.2h1.0V580.0zM89.0 580.0V566.1h1.0V580.0zM90.0 580.0V566.7h1.0V580.0zM91.0 580.0V566.7h1.0V580.0zM92.0 580.0V567.3h1.0V580.0zM93.0 580.0V567.0h1.0V580.0zM94.0 580.0V565.9h1.0V580.0zM95.0 580.0V565.9h1.0V580.0zM96.0 580.0V566.2h1.0V580.0zM97.0 580.0V565.5h1.0V580.0zM98.0 580.0V565.5h1.0V580.0zM99.0 580.0V564.5h1.0V580.0zM100.0 580.0V564.5h1.0V580.0zM101.0 580.0V566.2h1.0V580.0zM277.0 580.0V564.0h1.0V580.0zM278.0 580.0V559.7h1.0V580.0zM279.0 580.0V559.7h1.0V580.0zM280.0 580.0V563.2h1.0V580.0zM281.0 580.0V565.9h1.0V580.0zM282.0 580.0V565.9h1.0V580.0zM283.0 580.0V565.6h1.0V580.0zM284.0 580.0V566.1h1.0V580.0zM285.0 580.0V562.0h1.0V580.0zM286.0 580.0V562.0h1.0V580.0zM287.0 580.0V557.9h1.0V580.0zM288.0 580.0V557.9h1.0V580.0zM289.0 580.0V563.1h1.0V580.0zM290.0 580.0V563.2h1.0V580.0zM291.0 580.0V563.2h1.0V580.0zM410.0 580.0V563.2h1.0V580.0zM411.0 580.0V559.7h1.0V580.0zM412.0 580.0V559.7h1.0V580.0zM413.0 580.0V565.7h1.0V580.0zM414.0 580.0V563.2h1.0V580.0zM415.0 580.0V563.2h1.0V580.0zM416.0 580.0V564.7h1.0V580.0zM417.0 580.0V557.9h1.0V580.0zM418.0 580.0V557.9h1.0V580.0z"/>
<path fill="#d62728" d="M102.0 580.0V564.5h1.0V580.0zM103.0 580.0V564.5h1.0V580.0zM104.0 580.0V567.1h1.0V580.0zM105.0 580.0V565.9h1.0V580.0zM106.0 580.0V565.9h1.0V580.0zM107.0 580.0V566.7h1.0V580.0zM108.0 580.0V564.5h1.0V580.0zM109.0 580.0V564.5h1.0V580.0zM110.0 580.0V566.2h1.0V580.0zM111.0 580.0V567.2h1.0V580.0zM112.0 580.0V567.8h1.0V580.0zM113.0 580.0V567.6h1.0V580.0zM114.0 580.0V567.5h1.0V580.0zM115.0 580.0V566.8h1.0V580.0zM116.0 580.0V564.5h1.0V580.0zM117.0 580.0V564.5h1.0V580.0zM118.0 580.0V566.4h1.0V580.0zM119.0 580.0V565.6h1.0V580.0zM120.0 580.0V560.8h1.0V580.0zM121.0 580.0V560.8h1.0V580.0zM122.0 580.0V566.1h1.0V580.0zM292.0 580.0V565.8h1.0V580.0zM293.0 580.0V566.2h1.0V580.0zM294.0 580.0V566.8h1.0V580.0zM295.0 580.0V566.7h1.0V580.0zM296.0 580.0V566.7h1.0V580.0zM297.0 580.0V567.3h1.0V580.0zM298.0 580.0V563.2h1.0V580.0zM299.0 580.0V563.2h1.0V580.0zM300.0 580.0V565.4h1.0V580.0zM301.0 580.0V559.7h1.0V580.0zM302.0 580.0V559.7h1.0V580.0zM303.0 580.0V564.7h1.0V580.0zM304.0 580.0V561.0h1.0V580.0zM305.0 580.0V554.8h1.0V580.0zM306.0 580.0V554.8h1.0V580.0zM419.0 580.0V564.5h1.0V580.0zM420.0 580.0V564.5h1.0V580.0zM421.0 580.0V567.5h1.0V580.0zM422.0 580.0V568.1h1.0V580.0zM423.0 580.0V568.1h1.0V580.0zM424.0 580.0V567.6h1.0V580.0zM425.0 580.0V567.4h1.0V580.0zM426.0 580.0V566.7h1.0V580.0zM427.0 580.0V566.6h1.0V580.0zM428.0 580.0V562.0h1.0V580.0zM429.0 580.0V562.0h1.0V580.0z"/>
<path fill="#9467bd" d="M123.0 580.0V563.2h1.0V580.0zM124.0 580.0V563.2h1.0V580.0zM125.0 580.0V566.5h1.0V580.0zM126.0 580.0V560.8h1.0V580.0zM127.0 580.0V560.8h1.0V580.0zM128.0 580.0V566.8h1.0V580.0zM129.0 580.0V565.9h1.0V580.0zM130.0 580.0V565.9h1.0V580.0zM131.0 580.0V566.3h1.0V580.0zM132.0 580.0V567.1h1.0V580.0zM133.0 580.0V563.2h1.0V580.0zM134.0 580.0V563.2h1.0V580.0zM135.0 580.0V565.9h1.0V580.0zM136.0 580.0V566.7h1.0V580.0zM137.0 580.0V564.5h1.0V580.0zM138.0 580.0V564.5h1.0V580.0zM139.0 580.0V550.8h1.0V580.0zM140.0 580.0V550.8h1.0V580.0zM141.0 580.0V564.3h1.0V580.0zM142.0 580.0V564.5h1.0V580.0zM143.0 580.0V554.8h1.0V580.0zM144.0 580.0V554.8h1.0V580.0zM307.0 580.0V563.2h1.0V580.0zM308.0 580.0V563.2h1.0V580.0zM309.0 580.0V565.6h1.0V580.0zM310.0 580.0V565.8h1.0V580.0zM311.0 580.0V563.8h1.0V580.0zM312.0 580.0V557.9h1.0V580.0zM313.0 580.0V557.9h1.0V580.0zM314.0 580.0V567.1h1.0V580.0zM315.0 580.0V564.5h1.0V580.0zM316.0 580.0V564.5h1.0V580.0zM317.0 580.0V564.0h1.0V580.0zM318.0 580.0V563.0h1.0V580.0zM319.0 580.0V565.3h1.0V580.0zM320.0 580.0V559.7h1.0V580.0zM321.0 580.0V559.7h1.0V580.0zM430.0 580.0V563.2h1.0V580.0zM431.0 580.0V554.8h1.0V580.0zM432.0 580.0V554.8h1.0V580.0zM433.0 580.0V561.4h1.0V580.0zM434.0 580.0V557.9h1.0V580.0zM435.0 580.0V557.9h1.0V580.0zM436.0 580.0V564.5h1.0V580.0z"/>
<path fill="#8c564b" d="M145.0 580.0V554.8h1.0V580.0zM146.0 580.0V559.7h1.0V580.0zM147.0 580.0V559.7h1.0V580.0zM148.0 580.0V565.8h1.0V580.0zM149.0 580.0V557.9h1.0V580.0zM150.0 580.0V557.9h1.0V580.0zM151.0 580.0V565.1h1.0V580.0zM152.0 580.0V565.8h1.0V580.0zM153.0 580.0V565.4h1.0V580.0zM154.0 580.0V564.5h1.0V580.0zM155.0 580.0V564.5h1.0V580.0zM156.0 580.0V564.5h1.0V580.0zM157.0 580.0V560.8h1.0V580.0zM158.0 580.0V560.8h1.0V580.0zM159.0 580.0V563.0h1.0V580.0zM160.0 580.0V566.0h1.0V580.0zM161.0 580.0V565.7h1.0V580.0zM162.0 580.0V560.8h1.0V580.0zM163.0 580.0V560.8h1.0V580.0zM164.0 580.0V564.8h1.0V580.0zM322.0 580.0V560.1h1.0V580.0zM323.0 580.0V560.1h1.0V580.0zM324.0 580.0V563.2h1.0V580.0zM325.0 580.0V563.2h1.0V580.0zM326.0 580.0V557.9h1.0V580.0zM327.0 580.0V557.9h1.0V580.0zM328.0 580.0V565.7h1.0V580.0zM329.0 580.0V564.5h1.0V580.0zM330.0 580.0V564.5h1.0V580.0zM331.0 580.0V564.8h1.0V580.0zM332.0 580.0V562.0h1.0V580.0zM333.0 580.0V562.0h1.0V580.0zM334.0 580.0V563.2h1.0V580.0zM335.0 580.0V563.2h1.0V580.0zM437.0 580.0V564.5h1.0V580.0zM438.0 580.0V557.9h1.0V580.0zM439.0 580.0V557.9h1.0V580.0zM440.0 580.0V563.2h1.0V580.0zM441.0 580.0V563.2h1.0V580.0zM442.0 580.0V566.1h1.0V580.0zM443.0 580.0V564.5h1.0V580.0zM444.0 580.0V564.5h1.0V580.0zM445.0 580.0V567.2h1.0V580.0z"/>
<path fill="#e377c2" d="M165.0 580.0V565.6h1.0V580.0zM166.0 580.0V564.5h1.0V580.0zM167.0 580.0V564.5h1.0V580.0zM168.0 580.0V566.3h1.0V580.0zM169.0 580.0V563.2h1.0V580.0zM170.0 580.0V563.2h1.0V580.0zM171.0 580.0V566.5h1.0V580.0zM172.0 580.0V567.1h1.0V580.0zM173.0 580.0V566.0h1.0V580.0zM174.0 580.0V562.0h1.0V580.0zM175.0 580.0V562.0h1.0V580.0zM176.0 580.0V562.0h1.0V580.0zM177.0 580.0V562.0h1.0V580.0zM178.0 580.0V566.5h1.0V580.0zM179.0 580.0V564.5h1.0V580.0zM180.0 580.0V564.5h1.0V580.0zM181.0 580.0V566.2h1.0V580.0zM182.0 580.0V564.7h1.0V580.0zM183.0 580.0V562.0h1.0V580.0zM184.0 580.0V562.0h1.0V580.0zM336.0 580.0V567.3h1.0V580.0zM337.0 580.0V565.9h1.0V580.0zM338.0 580.0V565.9h1.0V580.0zM339.0 580.0V568.3h1.0V580.0zM340.0 580.0V569.9h1.0V580.0zM341.0 580.0V569.1h1.0V580.0zM342.0 580.0V567.3h1.0V580.0zM343.0 580.0V560.8h1.0V580.0zM344.0 580.0V560.8h1.0V580.0zM345.0 580.0V564.4h1.0V580.0zM346.0 580.0V557.9h1.0V580.0zM347.0 580.0V557.9h1.0V580.0zM348.0 580.0V563.2h1.0V580.0zM349.0 580.0V563.2h1.0V580.0zM446.0 580.0V563.2h1.0V580.0zM447.0 580.0V563.2h1.0V580.0zM448.0 580.0V564.4h1.0V580.0zM449.0 580.0V564.2h1.0V580.0zM450.0 580.0V560.8h1.0V580.0zM451.0 580.0V560.8h1.0V580.0zM452.0 580.0V563.8h1.0V580.0zM453.0 580.0V562.0h1.0V580.0zM454.0 580.0V562.0h1.0V580.0z"/>
<path fill="#7f7f7f" d="M185.0 580.0V565.1h1.0V580.0zM186.0 580.0V563.2h1.0V580.0zM187.0 580.0V563.2h1.0V580.0zM188.0 580.0V567.0h1.0V580.0zM189.0 580.0V566.7h1.0V580.0zM190.0 580.0V566.6h1.0V580.0zM191.0 580.0V566.1h1.0V580.0zM192.0 580.0V566.4h1.0V580.0zM193.0 580.0V562.0h1.0V580.0zM194.0 580.0V562.0h1.0V580.0zM195.0 580.0V564.6h1.0V580.0zM196.0 580.0V563.6h1.0V580.0zM197.0 580.0V562.0h1.0V580.0zM198.0 580.0V562.0h1.0V580.0zM199.0 580.0V565.2h1.0V580.0zM200.0 580.0V553.9h1.0V580.0zM201.0 580.0V553.9h1.0V580.0zM202.0 580.0V557.0h1.0V580.0zM203.0 580.0V557.0h1.0V580.0zM204.0 580.0V566.4h1.0V580.0zM350.0 580.0V567.0h1.0V580.0zM351.0 580.0V563.2h1.0V580.0zM352.0 580.0V563.2h1.0V580.0zM353.0 580.0V566.6h1.0V580.0zM354.0 580.0V567.6h1.0V580.0zM355.0 580.0V565.9h1.0V580.0zM356.0 580.0V565.9h1.0V580.0zM357.0 580.0V565.8h1.0V580.0zM358.0 580.0V565.3h1.0V580.0zM359.0 580.0V562.0h1.0V580.0zM360.0 580.0V562.0h1.0V580.0zM361.0 580.0V563.8h1.0V580.0zM455.0 580.0V563.2h1.0V580.0zM456.0 580.0V563.2h1.0V580.0zM457.0 580.0V563.9h1.0V580.0zM458.0 580.0V560.8h1.0V580.0zM459.0 580.0V560.8h1.0V580.0zM460.0 580.0V564.7h1.0V580.0zM461.0 580.0V557.9h1.0V580.0zM462.0 580.0V557.9h1.0V580.0z"/>
<path fill="#bcbd22" d="M27.0 580.0V560.8h1.0V580.0zM205.0 580.0V563.2h1.0V580.0zM206.0 580.0V563.2h1.0V580.0zM207.0 580.0V565.2h1.0V580.0zM208.0 580.0V565.4h1.0V580.0zM209.0 580.0V562.0h1.0V580.0zM210.0 580.0V562.0h1.0V580.0zM211.0 580.0V564.2h1.0V580.0zM212.0 580.0V565.2h1.0V580.0zM213.0 580.0V564.5h1.0V580.0zM214.0 580.0V564.5h1.0V580.0zM215.0 580.0V565.4h1.0V580.0zM216.0 580.0V564.4h1.0V580.0zM217.0 580.0V562.0h1.0V580.0zM218.0 580.0V562.0h1.0V580.0zM219.0 580.0V566.3h1.0V580.0zM220.0 580.0V557.0h1.0V580.0zM221.0 580.0V557.0h1.0V580.0zM222.0 580.0V557.0h1.0V580.0zM223.0 580.0V564.2h1.0V580.0zM362.0 580.0V557.9h1.0V580.0zM363.0 580.0V557.9h1.0V580.0zM364.0 580.0V560.1h1.0V580.0zM365.0 580.0V557.1h1.0V580.0zM366.0 580.0V550.8h1.0V580.0zM367.0 580.0V550.8h1.0V580.0zM368.0 580.0V563.4h1.0V580.0zM369.0 580.0V562.0h1.0V580.0zM370.0 580.0V562.0h1.0V580.0zM371.0 580.0V564.5h1.0V580.0zM372.0 580.0V564.5h1.0V580.0zM463.0 580.0V564.5h1.0V580.0zM464.0 580.0V564.5h1.0V580.0zM465.0 580.0V567.4h1.0V580.0zM466.0 580.0V565.8h1.0V580.0zM467.0 580.0V563.2h1.0V580.0zM468.0 580.0V563.2h1.0V580.0zM469.0 580.0V565.2h1.0V580.0zM470.0 580.0V555.7h1.0V580.0zM471.0 580.0V555.7h1.0V580.0zM472.0 580.0V560.1h1.0V580.0z"/>
<path fill="#17becf" d="M224.0 580.0V563.2h1.0V580.0zM225.0 580.0V550.8h1.0V580.0zM226.0 580.0V550.8h1.0V580.0zM227.0 580.0V564.9h1.0V580.0zM228.0 580.0V559.7h1.0V580.0zM229.0 580.0V559.7h1.0V580.0zM230.0 580.0V553.9h1.0V580.0zM231.0 580.0V553.9h1.0V580.0zM232.0 580.0V561.1h1.0V580.0zM233.0 580.0V554.8h1.0V580.0zM234.0 580.0V554.8h1.0V580.0zM235.0 580.0V554.8h1.0V580.0zM236.0 580.0V565.1h1.0V580.0zM237.0 580.0V562.0h1.0V580.0zM238.0 580.0V562.0h1.0V580.0zM239.0 580.0V567.3h1.0V580.0zM240.0 580.0V563.2h1.0V580.0zM241.0 580.0V563.2h1.0V580.0zM242.0 580.0V566.7h1.0V580.0zM373.0 580.0V564.5h1.0V580.0zM374.0 580.0V564.5h1.0V580.0zM375.0 580.0V567.7h1.0V580.0zM376.0 580.0V565.9h1.0V580.0zM377.0 580.0V565.9h1.0V580.0zM378.0 580.0V565.5h1.0V580.0zM379.0 580.0V567.0h1.0V580.0zM380.0 580.0V567.0h1.0V580.0zM381.0 580.0V563.2h1.0V580.0zM382.0 580.0V563.2h1.0V580.0zM383.0 580.0V566.4h1.0V580.0zM384.0 580.0V560.8h1.0V580.0zM385.0 580.0V560.8h1.0V580.0z"/>
<path fill="#fff" d="M34.0 567.9h1.0v1.2h-1.0zM39.0 567.3h1.0v1.2h-1.0zM40.0 565.6h1.0v1.2h-1.0zM49.0 567.4h1.0v1.2h-1.0zM55.0 567.4h1.0v1.2h-1.0zM58.0 567.5h1.0v1.2h-1.0zM62.0 567.0h1.0v1.2h-1.0zM64.0 568.4h1.0v1.2h-1.0zM72.0 564.9h1.0v1.2h-1.0zM78.0 566.8h1.0v1.2h-1.0zM96.0 567.9h1.0v1.2h-1.0zM107.0 568.0h1.0v1.2h-1.0zM123.0 566.3h1.0v1.2h-1.0zM125.0 568.7h1.0v1.2h-1.0zM126.0 565.4h1.0v1.2h-1.0zM131.0 567.9h1.0v1.2h-1.0zM140.0 564.2h1.0v1.2h-1.0zM143.0 562.7h1.0v1.2h-1.0zM145.0 555.8h1.0v1.2h-1.0zM149.0 562.0h1.0v1.2h-1.0zM151.0 566.3h1.0v1.2h-1.0zM153.0 567.3h1.0v1.2h-1.0zM159.0 567.2h1.0v1.2h-1.0zM160.0 567.9h1.0v1.2h-1.0zM162.0 563.1h1.0v1.2h-1.0zM176.0 564.1h1.0v1.2h-1.0zM187.0 564.7h1.0v1.2h-1.0zM192.0 568.2h1.0v1.2h-1.0zM196.0 564.9h1.0v1.2h-1.0zM206.0 564.6h1.0v1.2h-1.0zM230.0 565.8h1.0v1.2h-1.0zM236.0 566.8h1.0v1.2h-1.0zM238.0 566.2h1.0v1.2h-1.0zM247.0 566.4h1.0v1.2h-1.0zM256.0 567.4h1.0v1.2h-1.0zM260.0 558.7h1.0v1.2h-1.0zM261.0 562.2h1.0v1.2h-1.0zM262.0 559.5h1.0v1.2h-1.0zM277.0 565.4h1.0v1.2h-1.0zM283.0 567.2h1.0v1.2h-1.0zM292.0 567.3h1.0v1.2h-1.0zM293.0 567.3h1.0v1.2h-1.0zM299.0 566.6h1.0v1.2h-1.0zM305.0 558.6h1.0v1.2h-1.0zM307.0 564.3h1.0v1.2h-1.0zM310.0 568.4h1.0v1.2h-1.0zM319.0 567.5h1.0v1.2h-1.0zM320.0 567.1h1.0v1.2h-1.0zM325.0 566.5h1.0v1.2h-1.0zM326.0 564.7h1.0v1.2h-1.0zM329.0 567.2h1.0v1.2h-1.0zM334.0 564.1h1.0v1.2h-1.0zM335.0 566.5h1.0v1.2h-1.0zM343.0 568.0h1.0v1.2h-1.0zM344.0 561.7h1.0v1.2h-1.0zM345.0 566.9h1.0v1.2h-1.0zM347.0 562.8h1.0v1.2h-1.0zM348.0 564.6h1.0v1.2h-1.0zM349.0 565.9h1.0v1.2h-1.0zM356.0 567.7h1.0v1.2h-1.0zM362.0 564.9h1.0v1.2h-1.0zM364.0 561.6h1.0v1.2h-1.0zM388.0 567.4h1.0v1.2h-1.0zM398.0 566.7h1.0v1.2h-1.0zM405.0 568.0h1.0v1.2h-1.0zM408.0 565.7h1.0v1.2h-1.0zM414.0 566.4h1.0v1.2h-1.0zM432.0 557.6h1.0v1.2h-1.0zM437.0 565.5h1.0v1.2h-1.0zM440.0 565.8h1.0v1.2h-1.0zM451.0 563.9h1.0v1.2h-1.0zM455.0 567.0h1.0v1.2h-1.0zM457.0 566.7h1.0v1.2h-1.0zM471.0 564.1h1.0v1.2h-1.0z"/>
<path fill="#1f77b4" d="M36.6 564.5h1.8v1.8h-1.8zM42.6 561.1h1.8v1.8h-1.8zM47.6 562.7h1.8v1.8h-1.8zM249.6 562.4h1.8v1.8h-1.8z"/>
<path fill="#ff7f0e" d="M60.6 562.3h1.8v1.8h-1.8zM64.6 563.4h1.8v1.8h-1.8zM67.6 561.9h1.8v1.8h-1.8zM75.6 562.8h1.8v1.8h-1.8zM400.6 562.6h1.8v1.8h-1.8z"/>
<path fill="#2ca02c" d="M279.6 559.9h1.8v1.8h-1.8z"/>
<path fill="#d62728" d="M303.6 558.1h1.8v1.8h-1.8z"/>
<path fill="#9467bd" d="M131.6 563.6h1.8v1.8h-1.8zM140.6 561.0h1.8v1.8h-1.8zM308.6 562.4h1.8v1.8h-1.8zM318.6 561.0h1.8v1.8h-1.8zM430.6 550.8h1.8v1.8h-1.8z"/>
<path fill="#8c564b" d="M155.6 562.0h1.8v1.8h-1.8zM322.6 557.6h1.8v1.8h-1.8z"/>
<path fill="#e377c2" d="M171.6 561.8h1.8v1.8h-1.8zM344.6 560.3h1.8v1.8h-1.8zM348.6 559.2h1.8v1.8h-1.8z"/>
<path fill="#7f7f7f" d="M191.6 564.2h1.8v1.8h-1.8z"/>
<path fill="#17becf" d="M235.6 562.2h1.8v1.8h-1.8zM382.6 563.6h1.8v1.8h-1.8z"/>
<line x1="27.7" y1="559.9" x2="472.6" y2="559.9" stroke="#dd4444" stroke-width="0.9" stroke-dasharray="1 0.66" stroke-opacity="0.85"/>
<path fill="#d62728" d="M292.20 430.8h1.80V432.6h-1.80zM292.20 433.6h1.80V435.4h-1.80zM292.10 437.0h2.00V500.0h-2.00zM292.10 503.5h2.00V560.0h-2.00z"/>
<path fill="#d62728" d="M303.40 507.9h1.80V509.7h-1.80zM303.40 513.5h1.80V515.3h-1.80zM303.40 519.9h1.80V521.7h-1.80zM303.35 526.0h1.90V540.0h-1.90zM302.90 540.0h2.80V552.0h-2.80zM302.50 552.0h3.60V570.0h-3.60z"/>
<path fill="#8c564b" d="M150.50 471.7h1.80V473.5h-1.80zM150.50 480.4h1.80V482.2h-1.80zM150.50 482.7h1.80V484.5h-1.80zM150.50 486.1h1.80V487.9h-1.80zM150.50 488.6h1.80V490.4h-1.80zM150.50 491.6h1.80V493.4h-1.80zM150.50 498.4h1.80V500.2h-1.80zM150.50 502.1h1.80V503.9h-1.80zM150.50 506.6h1.80V508.4h-1.80zM150.50 512.0h1.80V513.8h-1.80zM150.50 514.6h1.80V516.4h-1.80zM150.45 518.0h1.90V540.0h-1.90zM150.10 540.0h2.60V565.0h-2.60z"/>
<path fill="#8c564b" d="M159.30 530.4h1.80V532.2h-1.80zM159.00 538.2h2.40V565.0h-2.40z"/>
<path fill="#8c564b" d="M322.15 540.5h1.70V546.0h-1.70z"/>
<path fill="#17becf" d="M378.50 469.5h1.40V471.0h-1.40zM378.35 510.3h1.70V530.0h-1.70zM378.05 530.0h2.30V565.0h-2.30z"/>
<line x1="27.7" y1="580.3" x2="472.6" y2="580.3" stroke="#333" stroke-width="1"/>
<line x1="27.5" y1="403.2" x2="27.5" y2="580.5" stroke="#606060" stroke-width="1.15"/>
<line x1="24.9" y1="580.0" x2="27.5" y2="580.0" stroke="#333" stroke-width="0.8"/>
<text x="22.5" y="582.8" class="yt">0</text>
<line x1="24.9" y1="557.9" x2="27.5" y2="557.9" stroke="#333" stroke-width="0.8"/>
<text x="22.5" y="560.7" class="yt">5</text>
<line x1="24.9" y1="535.8" x2="27.5" y2="535.8" stroke="#333" stroke-width="0.8"/>
<text x="22.5" y="538.6" class="yt">10</text>
<line x1="24.9" y1="513.7" x2="27.5" y2="513.7" stroke="#333" stroke-width="0.8"/>
<text x="22.5" y="516.5" class="yt">15</text>
<line x1="24.9" y1="491.6" x2="27.5" y2="491.6" stroke="#333" stroke-width="0.8"/>
<text x="22.5" y="494.4" class="yt">20</text>
<line x1="24.9" y1="469.5" x2="27.5" y2="469.5" stroke="#333" stroke-width="0.8"/>
<text x="22.5" y="472.3" class="yt">25</text>
<line x1="24.9" y1="447.4" x2="27.5" y2="447.4" stroke="#333" stroke-width="0.8"/>
<text x="22.5" y="450.2" class="yt">30</text>
<line x1="24.9" y1="425.3" x2="27.5" y2="425.3" stroke="#333" stroke-width="0.8"/>
<text x="22.5" y="428.1" class="yt">35</text>
<line x1="24.9" y1="403.2" x2="27.5" y2="403.2" stroke="#333" stroke-width="0.8"/>
<text x="22.5" y="406.0" class="yt">40</text>
<line x1="41.4" y1="580.3" x2="41.4" y2="582.9" stroke="#333" stroke-width="0.8"/>
<text x="0" y="0" transform="translate(43.3,591.1) rotate(-45)" class="xt">1</text>
<line x1="67.4" y1="580.3" x2="67.4" y2="582.9" stroke="#333" stroke-width="0.8"/>
<text x="0" y="0" transform="translate(69.3,591.1) rotate(-45)" class="xt">2</text>
<line x1="90.9" y1="580.3" x2="90.9" y2="582.9" stroke="#333" stroke-width="0.8"/>
<text x="0" y="0" transform="translate(92.8,591.1) rotate(-45)" class="xt">3</text>
<line x1="112.4" y1="580.3" x2="112.4" y2="582.9" stroke="#333" stroke-width="0.8"/>
<text x="0" y="0" transform="translate(114.3,591.1) rotate(-45)" class="xt">4</text>
<line x1="133.7" y1="580.3" x2="133.7" y2="582.9" stroke="#333" stroke-width="0.8"/>
<text x="0" y="0" transform="translate(135.6,591.1) rotate(-45)" class="xt">5</text>
<line x1="154.9" y1="580.3" x2="154.9" y2="582.9" stroke="#333" stroke-width="0.8"/>
<text x="0" y="0" transform="translate(156.8,591.1) rotate(-45)" class="xt">6</text>
<line x1="175.1" y1="580.3" x2="175.1" y2="582.9" stroke="#333" stroke-width="0.8"/>
<text x="0" y="0" transform="translate(177.0,591.1) rotate(-45)" class="xt">7</text>
<line x1="195.0" y1="580.3" x2="195.0" y2="582.9" stroke="#333" stroke-width="0.8"/>
<text x="0" y="0" transform="translate(196.9,591.1) rotate(-45)" class="xt">8</text>
<line x1="214.5" y1="580.3" x2="214.5" y2="582.9" stroke="#333" stroke-width="0.8"/>
<text x="0" y="0" transform="translate(216.4,591.1) rotate(-45)" class="xt">9</text>
<line x1="233.4" y1="580.3" x2="233.4" y2="582.9" stroke="#333" stroke-width="0.8"/>
<text x="0" y="0" transform="translate(235.3,591.1) rotate(-45)" class="xt">10</text>
<line x1="252.4" y1="580.3" x2="252.4" y2="582.9" stroke="#333" stroke-width="0.8"/>
<text x="0" y="0" transform="translate(254.3,591.1) rotate(-45)" class="xt">11</text>
<line x1="269.8" y1="580.3" x2="269.8" y2="582.9" stroke="#333" stroke-width="0.8"/>
<text x="0" y="0" transform="translate(271.7,591.1) rotate(-45)" class="xt">12</text>
<line x1="284.7" y1="580.3" x2="284.7" y2="582.9" stroke="#333" stroke-width="0.8"/>
<text x="0" y="0" transform="translate(286.6,591.1) rotate(-45)" class="xt">13</text>
<line x1="299.4" y1="580.3" x2="299.4" y2="582.9" stroke="#333" stroke-width="0.8"/>
<text x="0" y="0" transform="translate(301.3,591.1) rotate(-45)" class="xt">14</text>
<line x1="314.7" y1="580.3" x2="314.7" y2="582.9" stroke="#333" stroke-width="0.8"/>
<text x="0" y="0" transform="translate(316.6,591.1) rotate(-45)" class="xt">15</text>
<line x1="329.3" y1="580.3" x2="329.3" y2="582.9" stroke="#333" stroke-width="0.8"/>
<text x="0" y="0" transform="translate(331.2,591.1) rotate(-45)" class="xt">16</text>
<line x1="343.1" y1="580.3" x2="343.1" y2="582.9" stroke="#333" stroke-width="0.8"/>
<text x="0" y="0" transform="translate(345.0,591.1) rotate(-45)" class="xt">17</text>
<line x1="355.9" y1="580.3" x2="355.9" y2="582.9" stroke="#333" stroke-width="0.8"/>
<text x="0" y="0" transform="translate(357.8,591.1) rotate(-45)" class="xt">18</text>
<line x1="367.3" y1="580.3" x2="367.3" y2="582.9" stroke="#333" stroke-width="0.8"/>
<text x="0" y="0" transform="translate(369.2,591.1) rotate(-45)" class="xt">19</text>
<line x1="379.6" y1="580.3" x2="379.6" y2="582.9" stroke="#333" stroke-width="0.8"/>
<text x="0" y="0" transform="translate(381.5,591.1) rotate(-45)" class="xt">20</text>
<line x1="392.4" y1="580.3" x2="392.4" y2="582.9" stroke="#333" stroke-width="0.8"/>
<text x="0" y="0" transform="translate(394.3,591.1) rotate(-45)" class="xt">21</text>
<line x1="404.1" y1="580.3" x2="404.1" y2="582.9" stroke="#333" stroke-width="0.8"/>
<text x="0" y="0" transform="translate(406.0,591.1) rotate(-45)" class="xt">22</text>
<line x1="414.3" y1="580.3" x2="414.3" y2="582.9" stroke="#333" stroke-width="0.8"/>
<text x="0" y="0" transform="translate(416.2,591.1) rotate(-45)" class="xt">23</text>
<line x1="424.3" y1="580.3" x2="424.3" y2="582.9" stroke="#333" stroke-width="0.8"/>
<text x="0" y="0" transform="translate(426.2,591.1) rotate(-45)" class="xt">24</text>
<line x1="433.5" y1="580.3" x2="433.5" y2="582.9" stroke="#333" stroke-width="0.8"/>
<text x="0" y="0" transform="translate(435.4,591.1) rotate(-45)" class="xt">25</text>
<line x1="441.6" y1="580.3" x2="441.6" y2="582.9" stroke="#333" stroke-width="0.8"/>
<text x="0" y="0" transform="translate(443.5,591.1) rotate(-45)" class="xt">26</text>
<line x1="450.3" y1="580.3" x2="450.3" y2="582.9" stroke="#333" stroke-width="0.8"/>
<text x="0" y="0" transform="translate(452.2,591.1) rotate(-45)" class="xt">27</text>
<line x1="458.9" y1="580.3" x2="458.9" y2="582.9" stroke="#333" stroke-width="0.8"/>
<text x="0" y="0" transform="translate(460.8,591.1) rotate(-45)" class="xt">28</text>
<line x1="467.9" y1="580.3" x2="467.9" y2="582.9" stroke="#333" stroke-width="0.8"/>
<text x="0" y="0" transform="translate(469.8,591.1) rotate(-45)" class="xt">29</text>
<text x="452.8" y="412.3" class="ttl" text-anchor="middle">PP</text>
<text transform="translate(8.9,285.8) rotate(-90)" class="ylab" text-anchor="middle">-log<tspan font-size="7.5" dy="2.5">10</tspan><tspan dy="-2.5">(p)</tspan></text>
<text x="252.5" y="607" class="xlab" text-anchor="middle">Chromosome</text>
<rect x="501.5" y="23.5" width="150.0" height="150.0" fill="none" stroke="#555" stroke-width="1"/>
<line x1="507.6" y1="173.5" x2="507.6" y2="176.5" stroke="#333" stroke-width="0.8"/>
<text x="507.6" y="183.5" class="qt" text-anchor="middle">0</text>
<line x1="544.9" y1="173.5" x2="544.9" y2="176.5" stroke="#333" stroke-width="0.8"/>
<text x="544.9" y="183.5" class="qt" text-anchor="middle">2</text>
<line x1="582.2" y1="173.5" x2="582.2" y2="176.5" stroke="#333" stroke-width="0.8"/>
<text x="582.2" y="183.5" class="qt" text-anchor="middle">4</text>
<line x1="619.5" y1="173.5" x2="619.5" y2="176.5" stroke="#333" stroke-width="0.8"/>
<text x="619.5" y="183.5" class="qt" text-anchor="middle">6</text>
<line x1="498.5" y1="166.6" x2="501.5" y2="166.6" stroke="#333" stroke-width="0.8"/>
<text x="496.5" y="168.8" class="qt" text-anchor="end">0</text>
<line x1="498.5" y1="138.4" x2="501.5" y2="138.4" stroke="#333" stroke-width="0.8"/>
<text x="496.5" y="140.6" class="qt" text-anchor="end">5</text>
<line x1="498.5" y1="110.3" x2="501.5" y2="110.3" stroke="#333" stroke-width="0.8"/>
<text x="496.5" y="112.5" class="qt" text-anchor="end">10</text>
<line x1="498.5" y1="82.1" x2="501.5" y2="82.1" stroke="#333" stroke-width="0.8"/>
<text x="496.5" y="84.3" class="qt" text-anchor="end">15</text>
<line x1="498.5" y1="54.0" x2="501.5" y2="54.0" stroke="#333" stroke-width="0.8"/>
<text x="496.5" y="56.2" class="qt" text-anchor="end">20</text>
<line x1="498.5" y1="25.8" x2="501.5" y2="25.8" stroke="#333" stroke-width="0.8"/>
<text x="496.5" y="28.0" class="qt" text-anchor="end">25</text>
<path d="M555.0 152.1 L558.7 151.0 L562.4 149.8 L566.1 148.7 L569.8 147.5 L573.5 146.3 L577.2 145.1 L580.9 143.8 L584.6 142.6 L588.3 141.3 L592.0 139.9 L595.7 138.6 L599.4 137.2 L603.1 135.7 L606.8 134.3 L610.5 132.8 L614.2 131.3 L617.9 129.7 L621.6 128.1 L625.3 126.5 L629.0 124.8 L632.7 123.1 L636.3 121.4 L640.0 119.6 L643.7 117.8 L643.7 130.3 L640.0 131.0 L636.3 131.7 L632.7 132.4 L629.0 133.2 L625.3 134.0 L621.6 134.8 L617.9 135.6 L614.2 136.4 L610.5 137.3 L606.8 138.2 L603.1 139.1 L599.4 140.0 L595.7 141.0 L592.0 141.9 L588.3 142.9 L584.6 143.9 L580.9 144.9 L577.2 146.0 L573.5 147.0 L569.8 148.1 L566.1 149.2 L562.4 150.3 L558.7 151.4 L555.0 152.5 Z" fill="#7d7878"/>
<line x1="507.6" y1="166.6" x2="643.7" y2="125.5" stroke="#b05a55" stroke-width="0.9"/>
<path d="M507.3 166.8 L535.0 157.5 L564.4 147.6 L575.0 141.8 L580.9 137.8 L584.5 133.5 L586.5 129.0 L587.9 124.0 L588.5 114.0 L588.9 104.2 L590.8 101.2 L592.4 98.2 L592.4 96.0" fill="none" stroke="#2371b0" stroke-width="2.3" stroke-linecap="round" stroke-linejoin="round"/>
<path d="M592.4 92.0 L592.4 90.0" fill="none" stroke="#2371b0" stroke-width="2.3" stroke-linecap="round" stroke-linejoin="round"/>
<path d="M592.4 86.0 L592.4 84.4 L593.2 77.4 L594.8 70.5 L596.8 67.5 L600.7 64.6 L601.7 60.6 L601.7 58.5" fill="none" stroke="#2371b0" stroke-width="2.3" stroke-linecap="round" stroke-linejoin="round"/>
<path d="M601.7 54.0 L601.7 53.5" fill="none" stroke="#2371b0" stroke-width="2.3" stroke-linecap="round" stroke-linejoin="round"/>
<path d="M601.7 48.0 L601.7 44.8 L602.7 40.8 L606.7 38.9 L614.6 37.3 L622.5 35.9 L631.4 35.3" fill="none" stroke="#2371b0" stroke-width="2.3" stroke-linecap="round" stroke-linejoin="round"/>
<circle cx="635.4" cy="32.9" r="1" fill="#1f6fae"/>
<circle cx="644.3" cy="30.5" r="1" fill="#1f6fae"/>
<text x="576.3" y="193.5" class="ql" text-anchor="middle">Expected -log<tspan font-size="6.8" dy="1.5">10</tspan><tspan dy="-1.5">(</tspan><tspan font-style="italic">p</tspan>)</text>
<text transform="translate(484.2,98.5) rotate(-90)" class="ql" text-anchor="middle">Observed -log<tspan font-size="6.8" dy="1.5">10</tspan><tspan dy="-1.5">(</tspan><tspan font-style="italic">p</tspan>)</text>
<rect x="501.5" y="223.5" width="150.0" height="150.0" fill="none" stroke="#555" stroke-width="1"/>
<line x1="507.6" y1="373.5" x2="507.6" y2="376.5" stroke="#333" stroke-width="0.8"/>
<text x="507.6" y="383.5" class="qt" text-anchor="middle">0</text>
<line x1="544.9" y1="373.5" x2="544.9" y2="376.5" stroke="#333" stroke-width="0.8"/>
<text x="544.9" y="383.5" class="qt" text-anchor="middle">2</text>
<line x1="582.2" y1="373.5" x2="582.2" y2="376.5" stroke="#333" stroke-width="0.8"/>
<text x="582.2" y="383.5" class="qt" text-anchor="middle">4</text>
<line x1="619.5" y1="373.5" x2="619.5" y2="376.5" stroke="#333" stroke-width="0.8"/>
<text x="619.5" y="383.5" class="qt" text-anchor="middle">6</text>
<line x1="498.5" y1="366.5" x2="501.5" y2="366.5" stroke="#333" stroke-width="0.8"/>
<text x="496.5" y="368.7" class="qt" text-anchor="end">0</text>
<line x1="498.5" y1="344.1" x2="501.5" y2="344.1" stroke="#333" stroke-width="0.8"/>
<text x="496.5" y="346.3" class="qt" text-anchor="end">20</text>
<line x1="498.5" y1="321.8" x2="501.5" y2="321.8" stroke="#333" stroke-width="0.8"/>
<text x="496.5" y="324.0" class="qt" text-anchor="end">40</text>
<line x1="498.5" y1="299.4" x2="501.5" y2="299.4" stroke="#333" stroke-width="0.8"/>
<text x="496.5" y="301.6" class="qt" text-anchor="end">60</text>
<line x1="498.5" y1="277.1" x2="501.5" y2="277.1" stroke="#333" stroke-width="0.8"/>
<text x="496.5" y="279.3" class="qt" text-anchor="end">80</text>
<line x1="498.5" y1="254.7" x2="501.5" y2="254.7" stroke="#333" stroke-width="0.8"/>
<text x="496.5" y="256.9" class="qt" text-anchor="end">100</text>
<line x1="498.5" y1="232.3" x2="501.5" y2="232.3" stroke="#333" stroke-width="0.8"/>
<text x="496.5" y="234.5" class="qt" text-anchor="end">120</text>
<path d="M555.0 363.5 L558.7 363.2 L562.4 363.0 L566.1 362.8 L569.8 362.5 L573.5 362.3 L577.2 362.1 L580.9 361.8 L584.6 361.6 L588.3 361.3 L592.0 361.0 L595.7 360.8 L599.4 360.5 L603.1 360.2 L606.8 359.9 L610.5 359.6 L614.2 359.3 L617.9 359.0 L621.6 358.6 L625.3 358.3 L629.0 358.0 L632.7 357.6 L636.3 357.3 L640.0 356.9 L643.7 356.5 L643.7 359.5 L640.0 359.7 L636.3 359.8 L632.7 359.9 L629.0 360.1 L625.3 360.2 L621.6 360.4 L617.9 360.5 L614.2 360.7 L610.5 360.9 L606.8 361.0 L603.1 361.2 L599.4 361.4 L595.7 361.6 L592.0 361.8 L588.3 362.0 L584.6 362.2 L580.9 362.4 L577.2 362.6 L573.5 362.8 L569.8 363.0 L566.1 363.2 L562.4 363.4 L558.7 363.6 L555.0 363.9 Z" fill="#7d7878"/>
<line x1="507.6" y1="366.5" x2="643.7" y2="358.3" stroke="#b05a55" stroke-width="0.9"/>
<path d="M507.3 366.5 L530.0 365.2 L550.0 363.8 L563.2 362.5 L569.8 359.3 L575.1 354.6 L579.0 349.3 L581.7 342.7 L583.8 334.8 L585.6 328.2 L587.5 317.6 L588.8 307.1 L589.0 297.8 L590.1 295.2 L592.2 291.8" fill="none" stroke="#2371b0" stroke-width="2.3" stroke-linecap="round" stroke-linejoin="round"/>
<path d="M591.4 281.2 L592.2 272.8 L593.5 264.9 L596.2 261.7 L599.6 260.1 L600.7 253.0 L601.9 246.0" fill="none" stroke="#2371b0" stroke-width="2.3" stroke-linecap="round" stroke-linejoin="round"/>
<path d="M601.6 251.4 L602.0 245.1" fill="none" stroke="#2371b0" stroke-width="2.3" stroke-linecap="round" stroke-linejoin="round"/>
<path d="M602.2 242.4 L603.3 235.8 L605.4 233.7 L616.0 231.9 L629.2 231.1" fill="none" stroke="#2371b0" stroke-width="2.3" stroke-linecap="round" stroke-linejoin="round"/>
<circle cx="631.5" cy="230.8" r="1" fill="#1f6fae"/>
<circle cx="635.5" cy="230.8" r="1" fill="#1f6fae"/>
<circle cx="644.9" cy="230.8" r="1" fill="#1f6fae"/>
<text x="576.3" y="393.5" class="ql" text-anchor="middle">Expected -log<tspan font-size="6.8" dy="1.5">10</tspan><tspan dy="-1.5">(</tspan><tspan font-style="italic">p</tspan>)</text>
<text transform="translate(484.2,298.5) rotate(-90)" class="ql" text-anchor="middle">Observed -log<tspan font-size="6.8" dy="1.5">10</tspan><tspan dy="-1.5">(</tspan><tspan font-style="italic">p</tspan>)</text>
<rect x="501.5" y="423.5" width="150.0" height="150.0" fill="none" stroke="#555" stroke-width="1"/>
<line x1="507.6" y1="573.5" x2="507.6" y2="576.5" stroke="#333" stroke-width="0.8"/>
<text x="507.6" y="583.5" class="qt" text-anchor="middle">0</text>
<line x1="544.9" y1="573.5" x2="544.9" y2="576.5" stroke="#333" stroke-width="0.8"/>
<text x="544.9" y="583.5" class="qt" text-anchor="middle">2</text>
<line x1="582.2" y1="573.5" x2="582.2" y2="576.5" stroke="#333" stroke-width="0.8"/>
<text x="582.2" y="583.5" class="qt" text-anchor="middle">4</text>
<line x1="619.5" y1="573.5" x2="619.5" y2="576.5" stroke="#333" stroke-width="0.8"/>
<text x="619.5" y="583.5" class="qt" text-anchor="middle">6</text>
<line x1="498.5" y1="567.1" x2="501.5" y2="567.1" stroke="#333" stroke-width="0.8"/>
<text x="496.5" y="569.3" class="qt" text-anchor="end">0</text>
<line x1="498.5" y1="546.6" x2="501.5" y2="546.6" stroke="#333" stroke-width="0.8"/>
<text x="496.5" y="548.8" class="qt" text-anchor="end">5</text>
<line x1="498.5" y1="526.1" x2="501.5" y2="526.1" stroke="#333" stroke-width="0.8"/>
<text x="496.5" y="528.3" class="qt" text-anchor="end">10</text>
<line x1="498.5" y1="505.6" x2="501.5" y2="505.6" stroke="#333" stroke-width="0.8"/>
<text x="496.5" y="507.8" class="qt" text-anchor="end">15</text>
<line x1="498.5" y1="485.1" x2="501.5" y2="485.1" stroke="#333" stroke-width="0.8"/>
<text x="496.5" y="487.3" class="qt" text-anchor="end">20</text>
<line x1="498.5" y1="464.6" x2="501.5" y2="464.6" stroke="#333" stroke-width="0.8"/>
<text x="496.5" y="466.8" class="qt" text-anchor="end">25</text>
<line x1="498.5" y1="444.1" x2="501.5" y2="444.1" stroke="#333" stroke-width="0.8"/>
<text x="496.5" y="446.3" class="qt" text-anchor="end">30</text>
<line x1="498.5" y1="423.6" x2="501.5" y2="423.6" stroke="#333" stroke-width="0.8"/>
<text x="496.5" y="425.8" class="qt" text-anchor="end">35</text>
<path d="M555.0 556.5 L558.7 555.7 L562.4 554.8 L566.1 554.0 L569.8 553.1 L573.5 552.3 L577.2 551.4 L580.9 550.5 L584.6 549.6 L588.3 548.6 L592.0 547.7 L595.7 546.7 L599.4 545.7 L603.1 544.6 L606.8 543.6 L610.5 542.5 L614.2 541.4 L617.9 540.3 L621.6 539.2 L625.3 538.0 L629.0 536.8 L632.7 535.6 L636.3 534.3 L640.0 533.1 L643.7 531.8 L643.7 541.0 L640.0 541.4 L636.3 541.9 L632.7 542.5 L629.0 543.0 L625.3 543.5 L621.6 544.1 L617.9 544.7 L614.2 545.3 L610.5 545.9 L606.8 546.5 L603.1 547.2 L599.4 547.9 L595.7 548.5 L592.0 549.2 L588.3 549.9 L584.6 550.7 L580.9 551.4 L577.2 552.2 L573.5 552.9 L569.8 553.7 L566.1 554.5 L562.4 555.3 L558.7 556.1 L555.0 556.9 Z" fill="#7d7878"/>
<line x1="507.6" y1="567.1" x2="643.7" y2="537.2" stroke="#b05a55" stroke-width="0.9"/>
<path d="M507.3 567.1 L525.0 563.5 L540.0 559.8 L548.9 557.4 L557.8 554.4 L563.7 550.6 L569.7 545.3 L575.6 537.8 L579.3 528.9 L581.5 521.5 L583.0 518.9 L585.2 515.6 L587.5 508.2 L588.9 506.0 L591.2 503.2 L591.2 497.1" fill="none" stroke="#2371b0" stroke-width="2.3" stroke-linecap="round" stroke-linejoin="round"/>
<path d="M591.2 492.2 L592.2 484.4 L593.1 480.0 L593.8 474.5 L595.8 471.5 L597.2 465.6 L599.7 458.6 L601.7 448.7 L603.7 440.8 L606.7 439.2 L614.6 436.9 L624.5 435.3 L629.4 434.5" fill="none" stroke="#2371b0" stroke-width="2.3" stroke-linecap="round" stroke-linejoin="round"/>
<circle cx="632.4" cy="434.5" r="1" fill="#1f6fae"/>
<circle cx="635.4" cy="433.9" r="1" fill="#1f6fae"/>
<circle cx="644.7" cy="430.5" r="1" fill="#1f6fae"/>
<text x="576.3" y="593.5" class="ql" text-anchor="middle">Expected -log<tspan font-size="6.8" dy="1.5">10</tspan><tspan dy="-1.5">(</tspan><tspan font-style="italic">p</tspan>)</text>
<text transform="translate(484.2,498.5) rotate(-90)" class="ql" text-anchor="middle">Observed -log<tspan font-size="6.8" dy="1.5">10</tspan><tspan dy="-1.5">(</tspan><tspan font-style="italic">p</tspan>)</text>
</svg>
</body></html>
